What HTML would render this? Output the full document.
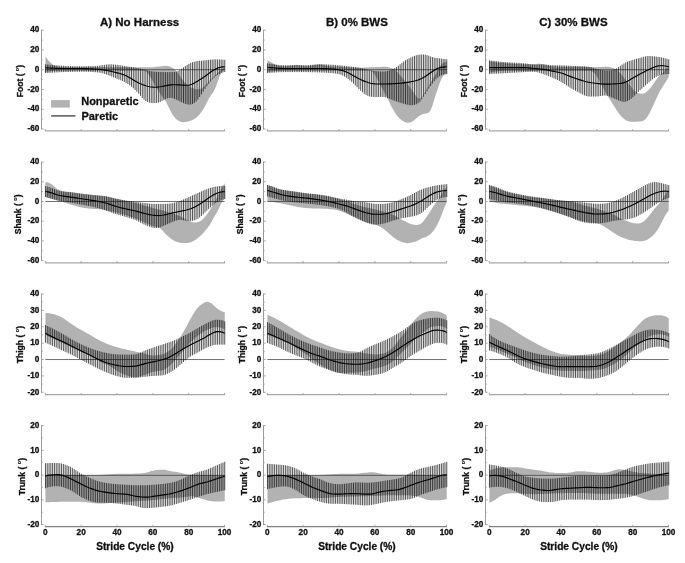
<!DOCTYPE html>
<html><head><meta charset="utf-8"><title>Figure</title>
<style>
html,body{margin:0;padding:0;background:#fff;}
svg{display:block;filter:grayscale(1);}
text{font-family:"Liberation Sans",sans-serif;font-weight:bold;fill:#111;stroke:#111;stroke-width:0.3px;}
.t{font-size:8.2px;}
.yl{font-size:8.6px;}
.xl{font-size:10.2px;}
.ti{font-size:11.5px;}
.lg{font-size:11px;}
</style></head><body>
<svg width="685" height="563" viewBox="0 0 685 563">
<rect width="685" height="563" fill="#fff"/>
<g>
<polygon fill="#b2b2b2" points="45.45,56.38 47.24,59.07 49.04,61.24 50.83,63.06 52.62,64.5 54.41,65.45 56.21,66.06 58,66.47 59.79,66.72 61.59,66.87 63.38,66.98 65.17,67.07 66.97,67.15 68.76,67.2 70.55,67.23 72.34,67.25 74.14,67.25 75.93,67.25 77.72,67.25 79.52,67.25 81.31,67.25 83.1,67.25 84.9,67.25 86.69,67.25 88.48,67.25 90.28,67.25 92.07,67.25 93.86,67.25 95.65,67.25 97.45,67.25 99.24,67.25 101.03,67.25 102.83,67.25 104.62,67.25 106.41,67.25 108.2,67.25 110,67.25 111.79,67.25 113.58,67.25 115.38,67.25 117.17,67.25 118.96,67.25 120.76,67.25 122.55,67.25 124.34,67.25 126.13,67.25 127.93,67.25 129.72,67.25 131.51,67.25 133.31,67.25 135.1,67.25 136.89,67.25 138.69,67.25 140.48,67.24 142.27,67.23 144.06,67.23 145.86,67.22 147.65,67.2 149.44,67.19 151.24,67.17 153.03,67.13 154.82,67.03 156.62,66.85 158.41,66.61 160.2,66.38 162,66.17 163.79,66 165.58,65.87 167.37,65.88 169.17,66.21 170.96,66.93 172.75,67.96 174.55,69.3 176.34,71.13 178.13,73.5 179.92,76.09 181.72,78.54 183.51,80.79 185.3,82.89 187.1,84.71 188.89,86.1 190.68,87.16 192.48,88.03 194.27,88.73 196.06,89.2 197.86,89.34 199.65,89.06 201.44,88.38 203.23,87.27 205.03,85.62 206.82,83.63 208.61,81.71 210.41,79.9 212.2,78.12 213.99,76.38 215.78,74.66 217.58,72.95 219.37,71.29 221.16,69.76 222.96,68.43 224.75,67.25 224.75,69.72 222.96,70.87 221.16,73.19 219.37,77.1 217.58,81.96 215.78,86.97 213.99,90.88 212.2,93.57 210.41,96.03 208.61,99.09 206.82,102.66 205.03,106.13 203.23,109.27 201.44,111.98 199.65,114.3 197.86,116.25 196.06,117.81 194.27,119.05 192.48,120.02 190.68,120.72 188.89,121.26 187.1,121.69 185.3,122.02 183.51,122.17 181.72,122.03 179.92,121.45 178.13,120.47 176.34,119.14 174.55,117.33 172.75,114.88 170.96,111.83 169.17,108.24 167.37,104.46 165.58,101.13 163.79,98.47 162,96.16 160.2,93.76 158.41,91.01 156.62,87.96 154.82,84.79 153.03,81.61 151.24,78.56 149.44,75.7 147.65,73.22 145.86,71.59 144.06,70.9 142.27,70.64 140.48,70.54 138.69,70.51 136.89,70.51 135.1,70.51 133.31,70.51 131.51,70.51 129.72,70.51 127.93,70.51 126.13,70.51 124.34,70.51 122.55,70.51 120.76,70.51 118.96,70.51 117.17,70.51 115.38,70.51 113.58,70.51 111.79,70.51 110,70.51 108.2,70.51 106.41,70.51 104.62,70.51 102.83,70.51 101.03,70.51 99.24,70.51 97.45,70.51 95.65,70.51 93.86,70.51 92.07,70.51 90.28,70.51 88.48,70.51 86.69,70.51 84.9,70.51 83.1,70.51 81.31,70.51 79.52,70.51 77.72,70.51 75.93,70.51 74.14,70.51 72.34,70.51 70.55,70.51 68.76,70.51 66.97,70.51 65.17,70.51 63.38,70.52 61.59,70.54 59.79,70.6 58,70.69 56.21,70.79 54.41,70.92 52.62,71.08 50.83,71.29 49.04,71.56 47.24,71.85 45.45,72.19"/>
<line x1="45.3" y1="69.72" x2="224.6" y2="69.72" stroke="#333" stroke-width="0.7"/>
<path d="M45.45 64.29V73.08M47.24 64.49V72.95M49.04 64.67V72.83M50.83 64.84V72.72M52.62 65.01V72.61M54.41 65.17V72.5M56.21 65.32V72.4M58 65.45V72.31M59.79 65.57V72.23M61.59 65.67V72.16M63.38 65.76V72.1M65.17 65.84V72.04M66.97 65.91V71.98M68.76 65.98V71.93M70.55 66.04V71.87M72.34 66.1V71.83M74.14 66.15V71.79M75.93 66.19V71.75M77.72 66.22V71.73M79.52 66.24V71.71M81.31 66.25V71.71M83.1 66.25V71.72M84.9 66.23V71.74M86.69 66.2V71.78M88.48 66.17V71.84M90.28 66.12V71.91M92.07 66.07V72M93.86 66V72.1M95.65 65.93V72.23M97.45 65.83V72.38M99.24 65.68V72.59M101.03 65.45V72.9M102.83 65.15V73.33M104.62 64.82V73.86M106.41 64.56V74.48M108.2 64.41V75.16M110 64.37V75.89M111.79 64.42V76.63M113.58 64.52V77.36M115.38 64.65V78.09M117.17 64.82V78.82M118.96 65.04V79.54M120.76 65.3V80.29M122.55 65.61V81.07M124.34 65.93V81.91M126.13 66.25V82.87M127.93 66.55V83.97M129.72 66.85V85.26M131.51 67.14V86.71M133.31 67.44V88.29M135.1 67.75V89.97M136.89 68.05V91.78M138.69 68.36V93.75M140.48 68.68V95.85M142.27 69.01V97.91M144.06 69.38V99.68M145.86 69.8V101.03M147.65 70.29V101.97M149.44 70.79V102.58M151.24 71.24V102.94M153.03 71.56V103.11M154.82 71.75V103.14M156.62 71.87V103.01M158.41 71.94V102.64M160.2 72V101.99M162 72.04V101.11M163.79 72.07V100.1M165.58 72.08V99.14M167.37 72.09V98.38M169.17 72.09V97.93M170.96 72.09V97.9M172.75 72.05V98.27M174.55 71.92V98.91M176.34 71.56V99.71M178.13 70.87V100.57M179.92 69.86V101.45M181.72 68.67V102.31M183.51 67.4V103.14M185.3 66.12V103.87M187.1 64.92V104.41M188.89 63.86V104.64M190.68 62.95V104.51M192.48 62.22V104.01M194.27 61.68V103.09M196.06 61.31V101.6M197.86 61.05V99.53M199.65 60.85V97.02M201.44 60.67V94.33M203.23 60.49V91.57M205.03 60.3V88.83M206.82 60.09V86.19M208.61 59.86V83.73M210.41 59.65V81.47M212.2 59.49V79.43M213.99 59.4V77.66M215.78 59.38V76.19M217.58 59.4V74.99M219.37 59.45V74M221.16 59.53V73.14M222.96 59.64V72.48M224.75 59.84V72.09" stroke="#000" stroke-width="0.68" fill="none"/>
<polyline points="45.45,67.74 47.24,67.87 49.04,67.98 50.83,68.08 52.62,68.18 54.41,68.28 56.21,68.36 58,68.42 59.79,68.47 61.59,68.51 63.38,68.53 65.17,68.53 66.97,68.53 68.76,68.53 70.55,68.53 72.34,68.53 74.14,68.53 75.93,68.53 77.72,68.53 79.52,68.54 81.31,68.54 83.1,68.56 84.9,68.59 86.69,68.64 88.48,68.7 90.28,68.78 92.07,68.87 93.86,68.97 95.65,69.08 97.45,69.21 99.24,69.36 101.03,69.55 102.83,69.8 104.62,70.1 106.41,70.43 108.2,70.8 110,71.17 111.79,71.56 113.58,71.96 115.38,72.38 117.17,72.82 118.96,73.3 120.76,73.82 122.55,74.4 124.34,75.05 126.13,75.79 127.93,76.67 129.72,77.68 131.51,78.77 133.31,79.89 135.1,80.98 136.89,82.01 138.69,82.94 140.48,83.76 142.27,84.5 144.06,85.17 145.86,85.77 147.65,86.29 149.44,86.7 151.24,86.98 153.03,87.14 154.82,87.2 156.62,87.15 158.41,87 160.2,86.78 162,86.48 163.79,86.14 165.58,85.76 167.37,85.4 169.17,85.09 170.96,84.88 172.75,84.79 174.55,84.77 176.34,84.78 178.13,84.82 179.92,84.87 181.72,84.96 183.51,85.08 185.3,85.2 187.1,85.26 188.89,85.16 190.68,84.78 192.48,84.08 194.27,83.12 196.06,82.03 197.86,80.91 199.65,79.79 201.44,78.66 203.23,77.48 205.03,76.26 206.82,74.98 208.61,73.65 210.41,72.3 212.2,71.01 213.99,69.87 215.78,68.91 217.58,68.12 219.37,67.54 221.16,67.11 222.96,66.87 224.75,66.76" stroke="#000" stroke-width="1.15" fill="none" stroke-linejoin="round"/>
<line x1="41.5" y1="29.7" x2="41.5" y2="129.5" stroke="#9c9c9c" stroke-width="1"/>
<line x1="45" y1="130.9" x2="224.9" y2="130.9" stroke="#a6a6a6" stroke-width="1.2"/>
<path d="M41.5 30.2h2.2M41.5 40.08h1.2M41.5 49.96h2.2M41.5 59.84h1.2M41.5 69.72h2.2M41.5 79.6h1.2M41.5 89.48h2.2M41.5 99.36h1.2M41.5 109.24h2.2M41.5 119.12h1.2M41.5 129h2.2M45.3 130.9v-1.8M81.16 130.9v-1.8M117.02 130.9v-1.8M152.88 130.9v-1.8M188.74 130.9v-1.8M224.6 130.9v-1.8" stroke="#9c9c9c" stroke-width="0.9" fill="none"/>
<text class="t" x="39.3" y="32.4" text-anchor="end">40</text>
<text class="t" x="39.3" y="52.16" text-anchor="end">20</text>
<text class="t" x="39.3" y="71.92" text-anchor="end">0</text>
<text class="t" x="39.3" y="91.68" text-anchor="end">-20</text>
<text class="t" x="39.3" y="111.44" text-anchor="end">-40</text>
<text class="t" x="39.3" y="131.2" text-anchor="end">-60</text>
<text class="yl" transform="translate(22.9 81.1) rotate(-90)" text-anchor="middle">Foot ( <tspan dy="-3.9" font-size="5.6px" stroke-width="0.1">o</tspan><tspan dy="3.9">)</tspan></text>
<text class="ti" x="139.6" y="25.5" text-anchor="middle">A) No Harness</text>
</g>
<g>
<polygon fill="#b2b2b2" points="267.45,60.33 269.24,61.38 271.04,62.36 272.83,63.31 274.62,64.27 276.41,65.11 278.21,65.67 280,65.95 281.79,66.11 283.59,66.2 285.38,66.22 287.17,66.1 288.97,65.85 290.76,65.52 292.55,65.19 294.34,64.94 296.14,64.85 297.93,64.94 299.72,65.19 301.52,65.52 303.31,65.85 305.1,66.1 306.9,66.19 308.69,66.1 310.48,65.84 312.27,65.47 314.07,65.07 315.86,64.71 317.65,64.45 319.45,64.36 321.24,64.47 323.03,64.77 324.83,65.17 326.62,65.6 328.41,65.97 330.2,66.23 332,66.38 333.79,66.49 335.58,66.58 337.38,66.67 339.17,66.76 340.96,66.87 342.76,66.99 344.55,67.12 346.34,67.24 348.13,67.37 349.93,67.49 351.72,67.59 353.51,67.66 355.31,67.71 357.1,67.73 358.89,67.73 360.69,67.7 362.48,67.65 364.27,67.59 366.06,67.52 367.86,67.45 369.65,67.37 371.44,67.29 373.24,67.22 375.03,67.15 376.82,67.07 378.62,66.99 380.41,66.91 382.2,66.84 384,66.79 385.79,66.81 387.58,67 389.37,67.42 391.17,68.05 392.96,68.85 394.75,69.88 396.55,71.31 398.34,73.12 400.13,75.15 401.92,77.34 403.72,79.6 405.51,81.86 407.3,84.08 409.1,86.3 410.89,88.59 412.68,91.12 414.48,93.84 416.27,96.36 418.06,98.18 419.86,98.69 421.65,97.4 423.44,94.69 425.23,91.55 427.03,88.52 428.82,85.54 430.61,82.56 432.41,79.6 434.2,76.65 435.99,73.68 437.78,70.47 439.58,67.04 441.37,64.35 443.16,62.86 444.96,62.12 446.75,61.82 446.75,74.07 444.96,74.61 443.16,76 441.37,79.03 439.58,83.41 437.78,88.7 435.99,94.09 434.2,99.81 432.41,105.63 430.61,110.16 428.82,112.46 427.03,113.26 425.23,113.62 423.44,113.99 421.65,114.53 419.86,115.39 418.06,116.68 416.27,118.34 414.48,120.03 412.68,121.31 410.89,122.14 409.1,122.62 407.3,122.68 405.51,122.29 403.72,121.52 401.92,120.47 400.13,119.1 398.34,117.25 396.55,114.97 394.75,112.33 392.96,109.3 391.17,105.91 389.37,102.24 387.58,98.52 385.79,95.04 384,91.74 382.2,88.44 380.41,85.03 378.62,81.6 376.82,78.3 375.03,75.25 373.24,72.78 371.44,71.37 369.65,70.82 367.86,70.61 366.06,70.53 364.27,70.51 362.48,70.51 360.69,70.51 358.89,70.51 357.1,70.51 355.31,70.51 353.51,70.51 351.72,70.51 349.93,70.51 348.13,70.51 346.34,70.51 344.55,70.51 342.76,70.51 340.96,70.51 339.17,70.51 337.38,70.51 335.58,70.51 333.79,70.51 332,70.51 330.2,70.51 328.41,70.51 326.62,70.51 324.83,70.51 323.03,70.51 321.24,70.51 319.45,70.51 317.65,70.51 315.86,70.51 314.07,70.51 312.27,70.51 310.48,70.51 308.69,70.51 306.9,70.51 305.1,70.51 303.31,70.51 301.52,70.51 299.72,70.51 297.93,70.51 296.14,70.51 294.34,70.51 292.55,70.51 290.76,70.51 288.97,70.51 287.17,70.51 285.38,70.52 283.59,70.54 281.79,70.6 280,70.69 278.21,70.79 276.41,70.92 274.62,71.08 272.83,71.29 271.04,71.56 269.24,71.85 267.45,72.19"/>
<line x1="267.3" y1="69.72" x2="446.6" y2="69.72" stroke="#333" stroke-width="0.7"/>
<path d="M267.45 63.3V73.08M269.24 63.61V72.93M271.04 63.88V72.79M272.83 64.15V72.65M274.62 64.4V72.53M276.41 64.63V72.41M278.21 64.83V72.31M280 65V72.23M281.79 65.12V72.17M283.59 65.21V72.12M285.38 65.25V72.1M287.17 65.27V72.09M288.97 65.27V72.09M290.76 65.27V72.09M292.55 65.27V72.09M294.34 65.27V72.09M296.14 65.27V72.09M297.93 65.27V72.09M299.72 65.27V72.09M301.52 65.27V72.09M303.31 65.25V72.1M305.1 65.21V72.1M306.9 65.14V72.12M308.69 65.04V72.14M310.48 64.92V72.18M312.27 64.78V72.22M314.07 64.64V72.26M315.86 64.52V72.31M317.65 64.42V72.37M319.45 64.35V72.43M321.24 64.32V72.49M323.03 64.33V72.57M324.83 64.37V72.65M326.62 64.43V72.75M328.41 64.52V72.87M330.2 64.62V73.01M332 64.74V73.17M333.79 64.86V73.36M335.58 65V73.58M337.38 65.14V73.85M339.17 65.29V74.24M340.96 65.46V74.81M342.76 65.64V75.6M344.55 65.84V76.6M346.34 66.05V77.75M348.13 66.25V79.01M349.93 66.44V80.39M351.72 66.63V81.93M353.51 66.83V83.63M355.31 67.04V85.43M357.1 67.3V87.26M358.89 67.6V89.05M360.69 67.94V90.75M362.48 68.33V92.34M364.27 68.73V93.78M366.06 69.14V94.99M367.86 69.57V95.9M369.65 70V96.52M371.44 70.41V96.88M373.24 70.76V97.06M375.03 71.04V97.1M376.82 71.25V97.06M378.62 71.41V96.97M380.41 71.53V96.89M382.2 71.59V96.86M384 71.54V97M385.79 71.33V97.4M387.58 70.95V98.04M389.37 70.42V98.79M391.17 69.77V99.52M392.96 68.98V100.22M394.75 68.06V100.88M396.55 66.96V101.51M398.34 65.69V102.12M400.13 64.27V102.71M401.92 62.83V103.27M403.72 61.48V103.81M405.51 60.29V104.32M407.3 59.22V104.78M409.1 58.27V105.12M410.89 57.41V105.26M412.68 56.61V105.16M414.48 55.87V104.83M416.27 55.25V104.23M418.06 54.81V103.22M419.86 54.55V101.62M421.65 54.45V99.41M423.44 54.48V96.78M425.23 54.68V94M427.03 55.11V91.24M428.82 55.78V88.54M430.61 56.51V85.94M432.41 57.14V83.5M434.2 57.58V81.25M435.99 57.89V79.23M437.78 58.14V77.56M439.58 58.37V76.3M441.37 58.61V75.41M443.16 58.85V74.74M444.96 59.09V74.28M446.75 59.35V74.07" stroke="#000" stroke-width="0.68" fill="none"/>
<polyline points="267.45,67.25 269.24,67.45 271.04,67.63 272.83,67.8 274.62,67.97 276.41,68.12 278.21,68.25 280,68.36 281.79,68.44 283.59,68.49 285.38,68.52 287.17,68.53 288.97,68.53 290.76,68.53 292.55,68.53 294.34,68.53 296.14,68.53 297.93,68.53 299.72,68.53 301.52,68.53 303.31,68.53 305.1,68.53 306.9,68.53 308.69,68.53 310.48,68.53 312.27,68.53 314.07,68.53 315.86,68.53 317.65,68.53 319.45,68.54 321.24,68.55 323.03,68.57 324.83,68.61 326.62,68.68 328.41,68.77 330.2,68.88 332,69.01 333.79,69.17 335.58,69.34 337.38,69.55 339.17,69.81 340.96,70.18 342.76,70.67 344.55,71.27 346.34,71.98 348.13,72.77 349.93,73.67 351.72,74.66 353.51,75.71 355.31,76.76 357.1,77.76 358.89,78.7 360.69,79.58 362.48,80.4 364.27,81.15 366.06,81.82 367.86,82.43 369.65,82.98 371.44,83.43 373.24,83.76 375.03,83.94 376.82,84.02 378.62,84.04 380.41,84.04 382.2,84.04 384,84.03 385.79,84.01 387.58,83.96 389.37,83.9 391.17,83.83 392.96,83.74 394.75,83.65 396.55,83.55 398.34,83.43 400.13,83.29 401.92,83.13 403.72,82.92 405.51,82.68 407.3,82.4 409.1,82.09 410.89,81.76 412.68,81.39 414.48,80.99 416.27,80.54 418.06,80 419.86,79.35 421.65,78.53 423.44,77.55 425.23,76.44 427.03,75.25 428.82,74.01 430.61,72.73 432.41,71.42 434.2,70.19 435.99,69.15 437.78,68.36 439.58,67.8 441.37,67.4 443.16,67.08 444.96,66.86 446.75,66.76" stroke="#000" stroke-width="1.15" fill="none" stroke-linejoin="round"/>
<line x1="263.5" y1="29.7" x2="263.5" y2="129.5" stroke="#9c9c9c" stroke-width="1"/>
<line x1="267" y1="130.9" x2="446.9" y2="130.9" stroke="#a6a6a6" stroke-width="1.2"/>
<path d="M263.5 30.2h2.2M263.5 40.08h1.2M263.5 49.96h2.2M263.5 59.84h1.2M263.5 69.72h2.2M263.5 79.6h1.2M263.5 89.48h2.2M263.5 99.36h1.2M263.5 109.24h2.2M263.5 119.12h1.2M263.5 129h2.2M267.3 130.9v-1.8M303.16 130.9v-1.8M339.02 130.9v-1.8M374.88 130.9v-1.8M410.74 130.9v-1.8M446.6 130.9v-1.8" stroke="#9c9c9c" stroke-width="0.9" fill="none"/>
<text class="t" x="261.3" y="32.4" text-anchor="end">40</text>
<text class="t" x="261.3" y="52.16" text-anchor="end">20</text>
<text class="t" x="261.3" y="71.92" text-anchor="end">0</text>
<text class="t" x="261.3" y="91.68" text-anchor="end">-20</text>
<text class="t" x="261.3" y="111.44" text-anchor="end">-40</text>
<text class="t" x="261.3" y="131.2" text-anchor="end">-60</text>
<text class="yl" transform="translate(244.9 81.1) rotate(-90)" text-anchor="middle">Foot ( <tspan dy="-3.9" font-size="5.6px" stroke-width="0.1">o</tspan><tspan dy="3.9">)</tspan></text>
<text class="ti" x="356.9" y="25.5" text-anchor="middle">B) 0% BWS</text>
</g>
<g>
<polygon fill="#b2b2b2" points="489.45,61.32 491.24,61.57 493.04,61.8 494.83,62.03 496.62,62.24 498.41,62.45 500.21,62.65 502,62.83 503.79,63 505.59,63.15 507.38,63.3 509.17,63.43 510.97,63.57 512.76,63.7 514.55,63.83 516.35,63.95 518.14,64.06 519.93,64.15 521.72,64.22 523.52,64.26 525.31,64.27 527.1,64.25 528.9,64.2 530.69,64.13 532.48,64.04 534.27,63.95 536.07,63.88 537.86,63.83 539.65,63.84 541.45,63.97 543.24,64.26 545.03,64.67 546.83,65.14 548.62,65.59 550.41,65.97 552.21,66.23 554,66.4 555.79,66.54 557.58,66.64 559.38,66.71 561.17,66.75 562.96,66.76 564.76,66.76 566.55,66.76 568.34,66.76 570.13,66.76 571.93,66.76 573.72,66.76 575.51,66.76 577.31,66.76 579.1,66.76 580.89,66.77 582.69,66.8 584.48,66.84 586.27,66.9 588.06,66.95 589.86,67.01 591.65,67.06 593.44,67.11 595.24,67.13 597.03,67.14 598.82,67.11 600.62,67.04 602.41,66.95 604.2,66.87 606,66.8 607.79,66.82 609.58,67 611.37,67.42 613.17,68.06 614.96,68.86 616.75,69.86 618.55,71.27 620.34,73.17 622.13,75.36 623.92,77.63 625.72,79.92 627.51,82.24 629.3,84.55 631.1,86.84 632.89,89.07 634.68,90.96 636.48,92.27 638.27,93.1 640.06,93.63 641.86,93.84 643.65,93.56 645.44,92.66 647.23,91.3 649.03,89.59 650.82,87.44 652.61,84.96 654.41,82.3 656.2,79.68 657.99,77.27 659.78,75.23 661.58,73.6 663.37,72.06 665.16,70.31 666.96,68.21 668.75,65.77 668.75,76.64 666.96,79.97 665.16,82.79 663.37,85.54 661.58,88.4 659.78,91.46 657.99,94.89 656.2,98.8 654.41,102.9 652.61,106.83 650.82,110.5 649.03,113.92 647.23,116.92 645.44,119.19 643.65,120.61 641.86,121.24 640.06,121.47 638.27,121.6 636.48,121.69 634.68,121.75 632.89,121.76 631.1,121.69 629.3,121.47 627.51,121.01 625.72,120.15 623.92,118.86 622.13,117.24 620.34,115.29 618.55,112.99 616.75,110.41 614.96,107.6 613.17,104.64 611.37,101.76 609.58,98.98 607.79,96.15 606,93.18 604.2,90.05 602.41,86.74 600.62,83.31 598.82,79.92 597.03,76.72 595.24,73.95 593.44,71.98 591.65,71.14 589.86,70.87 588.06,70.76 586.27,70.72 584.48,70.71 582.69,70.71 580.89,70.71 579.1,70.71 577.31,70.71 575.51,70.71 573.72,70.71 571.93,70.71 570.13,70.71 568.34,70.71 566.55,70.71 564.76,70.71 562.96,70.71 561.17,70.71 559.38,70.71 557.58,70.71 555.79,70.71 554,70.71 552.21,70.71 550.41,70.71 548.62,70.71 546.83,70.71 545.03,70.71 543.24,70.71 541.45,70.71 539.65,70.71 537.86,70.71 536.07,70.71 534.27,70.71 532.48,70.71 530.69,70.71 528.9,70.71 527.1,70.71 525.31,70.71 523.52,70.71 521.72,70.71 519.93,70.71 518.14,70.71 516.35,70.71 514.55,70.71 512.76,70.71 510.97,70.71 509.17,70.71 507.38,70.72 505.59,70.75 503.79,70.82 502,70.93 500.21,71.06 498.41,71.21 496.62,71.41 494.83,71.66 493.04,71.96 491.24,72.3 489.45,72.68"/>
<line x1="489.3" y1="69.72" x2="668.6" y2="69.72" stroke="#333" stroke-width="0.7"/>
<path d="M489.45 60.33V74.07M491.24 60.59V73.96M493.04 60.81V73.87M494.83 61.03V73.77M496.62 61.25V73.67M498.41 61.46V73.57M500.21 61.65V73.47M502 61.83V73.38M503.79 62V73.28M505.59 62.16V73.18M507.38 62.29V73.08M509.17 62.42V72.98M510.97 62.52V72.88M512.76 62.61V72.78M514.55 62.69V72.67M516.35 62.77V72.57M518.14 62.86V72.47M519.93 62.95V72.37M521.72 63.06V72.28M523.52 63.19V72.18M525.31 63.38V72.09M527.1 63.63V71.99M528.9 63.95V71.9M530.69 64.27V71.82M532.48 64.52V71.78M534.27 64.65V71.83M536.07 64.66V72.03M537.86 64.58V72.39M539.65 64.48V72.88M541.45 64.4V73.46M543.24 64.39V74.08M545.03 64.49V74.72M546.83 64.67V75.4M548.62 64.89V76.11M550.41 65.08V76.86M552.21 65.2V77.63M554 65.26V78.42M555.79 65.27V79.23M557.58 65.27V80.08M559.38 65.28V80.98M561.17 65.3V81.97M562.96 65.35V83.04M564.76 65.43V84.2M566.55 65.54V85.4M568.34 65.65V86.6M570.13 65.75V87.73M571.93 65.85V88.8M573.72 65.93V89.82M575.51 66.01V90.79M577.31 66.08V91.74M579.1 66.16V92.68M580.89 66.23V93.64M582.69 66.3V94.58M584.48 66.38V95.41M586.27 66.49V96.03M588.06 66.69V96.39M589.86 67.01V96.54M591.65 67.47V96.58M593.44 68.02V96.59M595.24 68.57V96.57M597.03 69.05V96.49M598.82 69.47V96.32M600.62 69.83V96.06M602.41 70.12V95.76M604.2 70.33V95.55M606 70.44V95.58M607.79 70.48V95.93M609.58 70.44V96.56M611.37 70.26V97.33M613.17 69.84V98.11M614.96 69.12V98.88M616.75 68.17V99.63M618.55 67.08V100.38M620.34 65.9V101.09M622.13 64.68V101.64M623.92 63.52V101.86M625.72 62.51V101.66M627.51 61.68V101.04M629.3 61V100.07M631.1 60.41V98.78M632.89 59.86V97.21M634.68 59.33V95.47M636.48 58.82V93.72M638.27 58.33V92M640.06 57.84V90.34M641.86 57.32V88.69M643.65 56.81V87.07M645.44 56.37V85.45M647.23 56.11V83.85M649.03 56.03V82.28M650.82 56.1V80.75M652.61 56.23V79.32M654.41 56.4V78.04M656.2 56.6V76.9M657.99 56.83V75.93M659.78 57.1V75.17M661.58 57.43V74.67M663.37 57.81V74.38M665.16 58.24V74.21M666.96 58.74V74.11M668.75 59.35V74.07" stroke="#000" stroke-width="0.68" fill="none"/>
<polyline points="489.45,67.55 491.24,67.55 493.04,67.55 494.83,67.55 496.62,67.55 498.41,67.55 500.21,67.55 502,67.55 503.79,67.55 505.59,67.55 507.38,67.55 509.17,67.55 510.97,67.55 512.76,67.55 514.55,67.55 516.35,67.55 518.14,67.55 519.93,67.55 521.72,67.55 523.52,67.56 525.31,67.6 527.1,67.7 528.9,67.86 530.69,68.07 532.48,68.29 534.27,68.5 536.07,68.68 537.86,68.83 539.65,68.99 541.45,69.16 543.24,69.38 545.03,69.65 546.83,69.97 548.62,70.34 550.41,70.71 552.21,71.08 554,71.43 555.79,71.77 557.58,72.12 559.38,72.51 561.17,72.98 562.96,73.55 564.76,74.21 566.55,74.94 568.34,75.68 570.13,76.4 571.93,77.09 573.72,77.75 575.51,78.38 577.31,78.99 579.1,79.59 580.89,80.17 582.69,80.72 584.48,81.24 586.27,81.71 588.06,82.11 589.86,82.45 591.65,82.75 593.44,83 595.24,83.23 597.03,83.45 598.82,83.66 600.62,83.85 602.41,84.02 604.2,84.13 606,84.19 607.79,84.18 609.58,84.13 611.37,84.05 613.17,83.95 614.96,83.84 616.75,83.7 618.55,83.55 620.34,83.34 622.13,83.07 623.92,82.66 625.72,82.04 627.51,81.19 629.3,80.16 631.1,79.06 632.89,77.99 634.68,76.96 636.48,75.97 638.27,75 640.06,74.04 641.86,73.09 643.65,72.15 645.44,71.22 647.23,70.31 649.03,69.41 650.82,68.54 652.61,67.69 654.41,66.94 656.2,66.34 657.99,65.94 659.78,65.73 661.58,65.69 663.37,65.78 665.16,65.96 666.96,66.25 668.75,66.76" stroke="#000" stroke-width="1.15" fill="none" stroke-linejoin="round"/>
<line x1="485.5" y1="29.7" x2="485.5" y2="129.5" stroke="#9c9c9c" stroke-width="1"/>
<line x1="489" y1="130.9" x2="668.9" y2="130.9" stroke="#a6a6a6" stroke-width="1.2"/>
<path d="M485.5 30.2h2.2M485.5 40.08h1.2M485.5 49.96h2.2M485.5 59.84h1.2M485.5 69.72h2.2M485.5 79.6h1.2M485.5 89.48h2.2M485.5 99.36h1.2M485.5 109.24h2.2M485.5 119.12h1.2M485.5 129h2.2M489.3 130.9v-1.8M525.16 130.9v-1.8M561.02 130.9v-1.8M596.88 130.9v-1.8M632.74 130.9v-1.8M668.6 130.9v-1.8" stroke="#9c9c9c" stroke-width="0.9" fill="none"/>
<text class="t" x="483.3" y="32.4" text-anchor="end">40</text>
<text class="t" x="483.3" y="52.16" text-anchor="end">20</text>
<text class="t" x="483.3" y="71.92" text-anchor="end">0</text>
<text class="t" x="483.3" y="91.68" text-anchor="end">-20</text>
<text class="t" x="483.3" y="111.44" text-anchor="end">-40</text>
<text class="t" x="483.3" y="131.2" text-anchor="end">-60</text>
<text class="yl" transform="translate(466.9 81.1) rotate(-90)" text-anchor="middle">Foot ( <tspan dy="-3.9" font-size="5.6px" stroke-width="0.1">o</tspan><tspan dy="3.9">)</tspan></text>
<text class="ti" x="573.4" y="25.5" text-anchor="middle">C) 30% BWS</text>
</g>
<g>
<polygon fill="#b2b2b2" points="45.45,182 47.24,182.28 49.04,182.91 50.83,183.83 52.62,185.1 54.41,186.68 56.21,188.22 58,189.42 59.79,190.24 61.59,190.78 63.38,191.16 65.17,191.43 66.97,191.65 68.76,191.84 70.55,192.04 72.34,192.25 74.14,192.48 75.93,192.73 77.72,192.98 79.52,193.23 81.31,193.47 83.1,193.7 84.9,193.92 86.69,194.12 88.48,194.32 90.28,194.51 92.07,194.7 93.86,194.88 95.65,195.07 97.45,195.25 99.24,195.42 101.03,195.6 102.83,195.8 104.62,196.02 106.41,196.29 108.2,196.63 110,197.04 111.79,197.49 113.58,197.94 115.38,198.39 117.17,198.83 118.96,199.27 120.76,199.72 122.55,200.16 124.34,200.59 126.13,201 127.93,201.38 129.72,201.75 131.51,202.11 133.31,202.48 135.1,202.9 136.89,203.36 138.69,203.86 140.48,204.39 142.27,204.92 144.06,205.43 145.86,205.94 147.65,206.43 149.44,206.92 151.24,207.41 153.03,207.9 154.82,208.4 156.62,208.89 158.41,209.38 160.2,209.87 162,210.36 163.79,210.84 165.58,211.31 167.37,211.79 169.17,212.3 170.96,212.85 172.75,213.45 174.55,214.1 176.34,214.79 178.13,215.52 179.92,216.3 181.72,217.14 183.51,218.05 185.3,218.99 187.1,219.88 188.89,220.71 190.68,221.49 192.48,222.13 194.27,222.44 196.06,222.39 197.86,222.09 199.65,221.51 201.44,220.4 203.23,218.73 205.03,216.72 206.82,214.49 208.61,212.02 210.41,209.31 212.2,206.37 213.99,203.21 215.78,199.85 217.58,196.29 219.37,192.66 221.16,189.17 222.96,186.05 224.75,183.18 224.75,198.94 222.96,200.47 221.16,203.38 219.37,207.46 217.58,211.16 215.78,214.31 213.99,217.37 212.2,220.55 210.41,223.65 208.61,226.4 206.82,228.85 205.03,231.06 203.23,233.09 201.44,234.94 199.65,236.6 197.86,238.08 196.06,239.41 194.27,240.56 192.48,241.45 190.68,242.13 188.89,242.65 187.1,242.99 185.3,243.11 183.51,243.07 181.72,242.93 179.92,242.72 178.13,242.37 176.34,241.77 174.55,240.95 172.75,239.95 170.96,238.74 169.17,237.28 167.37,235.65 165.58,233.89 163.79,231.95 162,230.04 160.2,228.53 158.41,227.6 156.62,227.04 154.82,226.59 153.03,226.07 151.24,225.42 149.44,224.67 147.65,223.85 145.86,223.01 144.06,222.19 142.27,221.37 140.48,220.56 138.69,219.75 136.89,218.98 135.1,218.26 133.31,217.6 131.51,216.99 129.72,216.4 127.93,215.84 126.13,215.29 124.34,214.77 122.55,214.25 120.76,213.76 118.96,213.29 117.17,212.84 115.38,212.41 113.58,212.01 111.79,211.62 110,211.24 108.2,210.86 106.41,210.47 104.62,210.04 102.83,209.62 101.03,209.3 99.24,209.14 97.45,209.07 95.65,209.01 93.86,208.92 92.07,208.79 90.28,208.64 88.48,208.46 86.69,208.25 84.9,208.02 83.1,207.73 81.31,207.38 79.52,206.95 77.72,206.47 75.93,205.96 74.14,205.45 72.34,204.94 70.55,204.42 68.76,203.89 66.97,203.35 65.17,202.8 63.38,202.27 61.59,201.75 59.79,201.24 58,200.74 56.21,200.24 54.41,199.72 52.62,199.19 50.83,198.65 49.04,198.1 47.24,197.54 45.45,196.97"/>
<line x1="45.3" y1="201.5" x2="224.6" y2="201.5" stroke="#333" stroke-width="0.7"/>
<path d="M45.45 186.04V196.97M47.24 186.53V197.47M49.04 187.06V197.95M50.83 187.66V198.47M52.62 188.31V199.01M54.41 189.01V199.55M56.21 189.68V200.05M58 190.3V200.49M59.79 190.82V200.86M61.59 191.25V201.19M63.38 191.56V201.49M65.17 191.79V201.78M66.97 191.98V202.05M68.76 192.14V202.31M70.55 192.3V202.59M72.34 192.49V202.88M74.14 192.71V203.19M75.93 192.97V203.52M77.72 193.24V203.87M79.52 193.53V204.23M81.31 193.81V204.6M83.1 194.07V204.96M84.9 194.29V205.31M86.69 194.5V205.65M88.48 194.68V205.99M90.28 194.85V206.34M92.07 195.02V206.7M93.86 195.19V207.1M95.65 195.36V207.52M97.45 195.52V207.99M99.24 195.68V208.49M101.03 195.85V209.03M102.83 196.04V209.59M104.62 196.26V210.17M106.41 196.53V210.77M108.2 196.87V211.4M110 197.28V212.04M111.79 197.71V212.7M113.58 198.14V213.33M115.38 198.55V213.93M117.17 198.92V214.49M118.96 199.27V215.02M120.76 199.6V215.54M122.55 199.92V216.04M124.34 200.22V216.55M126.13 200.5V217.06M127.93 200.76V217.58M129.72 201V218.1M131.51 201.24V218.65M133.31 201.47V219.25M135.1 201.7V219.94M136.89 201.94V220.75M138.69 202.18V221.66M140.48 202.42V222.63M142.27 202.65V223.59M144.06 202.89V224.48M145.86 203.13V225.3M147.65 203.36V226.05M149.44 203.57V226.73M151.24 203.72V227.32M153.03 203.81V227.79M154.82 203.85V228.09M156.62 203.86V228.12M158.41 203.86V227.83M160.2 203.86V227.26M162 203.85V226.53M163.79 203.82V225.74M165.58 203.77V224.94M167.37 203.68V224.13M169.17 203.56V223.35M170.96 203.37V222.58M172.75 203.08V221.83M174.55 202.66V221.12M176.34 202.13V220.5M178.13 201.53V220.07M179.92 200.87V219.9M181.72 200.17V219.98M183.51 199.41V220.25M185.3 198.61V220.57M187.1 197.8V220.86M188.89 196.99V221.01M190.68 196.19V220.98M192.48 195.39V220.78M194.27 194.6V220.36M196.06 193.81V219.67M197.86 193.01V218.7M199.65 192.2V217.46M201.44 191.39V215.99M203.23 190.59V214.33M205.03 189.83V212.57M206.82 189.14V210.8M208.61 188.49V209.06M210.41 187.91V207.36M212.2 187.38V205.76M213.99 186.94V204.31M215.78 186.6V203.04M217.58 186.33V201.96M219.37 186.11V201.03M221.16 185.93V200.19M222.96 185.8V199.49M224.75 185.74V198.94" stroke="#000" stroke-width="0.68" fill="none"/>
<polyline points="45.45,191.45 47.24,191.7 49.04,192.08 50.83,192.58 52.62,193.19 54.41,193.87 56.21,194.52 58,195.04 59.79,195.45 61.59,195.78 63.38,196.07 65.17,196.35 66.97,196.61 68.76,196.86 70.55,197.11 72.34,197.37 74.14,197.63 75.93,197.9 77.72,198.17 79.52,198.45 81.31,198.72 83.1,199 84.9,199.27 86.69,199.54 88.48,199.8 90.28,200.07 92.07,200.35 93.86,200.64 95.65,200.94 97.45,201.25 99.24,201.58 101.03,201.93 102.83,202.3 104.62,202.72 106.41,203.2 108.2,203.76 110,204.38 111.79,205.02 113.58,205.65 115.38,206.23 117.17,206.75 118.96,207.24 120.76,207.7 122.55,208.13 124.34,208.56 126.13,208.97 127.93,209.38 129.72,209.77 131.51,210.16 133.31,210.56 135.1,210.98 136.89,211.43 138.69,211.9 140.48,212.38 142.27,212.85 144.06,213.31 145.86,213.77 147.65,214.21 149.44,214.61 151.24,214.96 153.03,215.23 154.82,215.43 156.62,215.55 158.41,215.57 160.2,215.48 162,215.28 163.79,215 165.58,214.65 167.37,214.24 169.17,213.8 170.96,213.35 172.75,212.92 174.55,212.52 176.34,212.13 178.13,211.74 179.92,211.36 181.72,210.99 183.51,210.61 185.3,210.23 187.1,209.8 188.89,209.29 190.68,208.7 192.48,208 194.27,207.2 196.06,206.32 197.86,205.33 199.65,204.23 201.44,203.02 203.23,201.74 205.03,200.44 206.82,199.17 208.61,197.94 210.41,196.76 212.2,195.63 213.99,194.62 215.78,193.73 217.58,192.98 219.37,192.41 221.16,191.96 222.96,191.74 224.75,191.65" stroke="#000" stroke-width="1.15" fill="none" stroke-linejoin="round"/>
<line x1="41.5" y1="161.6" x2="41.5" y2="261.1" stroke="#9c9c9c" stroke-width="1"/>
<line x1="45" y1="262.8" x2="224.9" y2="262.8" stroke="#a6a6a6" stroke-width="1.2"/>
<path d="M41.5 162.1h2.2M41.5 171.95h1.2M41.5 181.8h2.2M41.5 191.65h1.2M41.5 201.5h2.2M41.5 211.35h1.2M41.5 221.2h2.2M41.5 231.05h1.2M41.5 240.9h2.2M41.5 250.75h1.2M41.5 260.6h2.2M45.3 262.8v-1.8M81.16 262.8v-1.8M117.02 262.8v-1.8M152.88 262.8v-1.8M188.74 262.8v-1.8M224.6 262.8v-1.8" stroke="#9c9c9c" stroke-width="0.9" fill="none"/>
<text class="t" x="39.3" y="164.3" text-anchor="end">40</text>
<text class="t" x="39.3" y="184" text-anchor="end">20</text>
<text class="t" x="39.3" y="203.7" text-anchor="end">0</text>
<text class="t" x="39.3" y="223.4" text-anchor="end">-20</text>
<text class="t" x="39.3" y="243.1" text-anchor="end">-40</text>
<text class="t" x="39.3" y="262.8" text-anchor="end">-60</text>
<text class="yl" transform="translate(21.3 214.35) rotate(-90)" text-anchor="middle">Shank ( <tspan dy="-3.9" font-size="5.6px" stroke-width="0.1">o</tspan><tspan dy="3.9">)</tspan></text>
</g>
<g>
<polygon fill="#b2b2b2" points="267.45,185.25 269.24,185.73 271.04,186.27 272.83,186.9 274.62,187.63 276.41,188.4 278.21,189.06 280,189.54 281.79,189.9 283.59,190.21 285.38,190.5 287.17,190.77 288.97,191.03 290.76,191.28 292.55,191.52 294.34,191.77 296.14,192.03 297.93,192.3 299.72,192.57 301.52,192.83 303.31,193.09 305.1,193.33 306.9,193.54 308.69,193.74 310.48,193.93 312.27,194.11 314.07,194.3 315.86,194.5 317.65,194.73 319.45,194.97 321.24,195.22 323.03,195.5 324.83,195.79 326.62,196.09 328.41,196.42 330.2,196.78 332,197.16 333.79,197.57 335.58,198 337.38,198.44 339.17,198.9 340.96,199.38 342.76,199.88 344.55,200.4 346.34,200.94 348.13,201.52 349.93,202.15 351.72,202.83 353.51,203.52 355.31,204.2 357.1,204.83 358.89,205.41 360.69,205.95 362.48,206.46 364.27,206.94 366.06,207.4 367.86,207.82 369.65,208.21 371.44,208.59 373.24,208.98 375.03,209.39 376.82,209.82 378.62,210.28 380.41,210.75 382.2,211.24 384,211.75 385.79,212.27 387.58,212.81 389.37,213.39 391.17,214.02 392.96,214.75 394.75,215.63 396.55,216.62 398.34,217.65 400.13,218.66 401.92,219.67 403.72,220.65 405.51,221.58 407.3,222.46 409.1,223.25 410.89,223.92 412.68,224.47 414.48,224.87 416.27,225.02 418.06,224.82 419.86,224.27 421.65,223.2 423.44,221.26 425.23,218.74 427.03,216.2 428.82,213.59 430.61,210.76 432.41,207.93 434.2,205.33 435.99,202.83 437.78,200.24 439.58,197.49 441.37,194.59 443.16,191.72 444.96,189.11 446.75,186.72 446.75,202.29 444.96,206.16 443.16,210.87 441.37,215.55 439.58,219.87 437.78,223.63 435.99,226.89 434.2,229.68 432.41,232.04 430.61,233.93 428.82,235.36 427.03,236.46 425.23,237.26 423.44,237.85 421.65,238.52 419.86,239.48 418.06,240.45 416.27,241.2 414.48,241.79 412.68,242.26 410.89,242.68 409.1,243.01 407.3,243.16 405.51,243.02 403.72,242.59 401.92,242 400.13,241.3 398.34,240.47 396.55,239.47 394.75,238.27 392.96,236.88 391.17,235.36 389.37,233.77 387.58,232.17 385.79,230.65 384,229.25 382.2,228.01 380.41,226.95 378.62,226.04 376.82,225.26 375.03,224.59 373.24,224.04 371.44,223.57 369.65,223.14 367.86,222.68 366.06,222.14 364.27,221.49 362.48,220.73 360.69,219.91 358.89,219.07 357.1,218.26 355.31,217.46 353.51,216.68 351.72,215.89 349.93,215.1 348.13,214.29 346.34,213.45 344.55,212.63 342.76,211.88 340.96,211.22 339.17,210.65 337.38,210.19 335.58,209.83 333.79,209.56 332,209.34 330.2,209.16 328.41,208.98 326.62,208.84 324.83,208.72 323.03,208.63 321.24,208.57 319.45,208.53 317.65,208.51 315.86,208.48 314.07,208.45 312.27,208.41 310.48,208.34 308.69,208.23 306.9,208.08 305.1,207.89 303.31,207.68 301.52,207.45 299.72,207.2 297.93,206.9 296.14,206.57 294.34,206.2 292.55,205.82 290.76,205.44 288.97,205.07 287.17,204.71 285.38,204.34 283.59,203.98 281.79,203.62 280,203.28 278.21,202.95 276.41,202.65 274.62,202.35 272.83,202.07 271.04,201.8 269.24,201.55 267.45,201.3"/>
<line x1="267.3" y1="201.5" x2="446.6" y2="201.5" stroke="#333" stroke-width="0.7"/>
<path d="M267.45 184.95V196.38M269.24 185.42V196.97M271.04 185.95V197.48M272.83 186.57V197.98M274.62 187.25V198.46M276.41 187.95V198.93M278.21 188.58V199.39M280 189.08V199.85M281.79 189.47V200.29M283.59 189.8V200.68M285.38 190.09V201.03M287.17 190.37V201.34M288.97 190.62V201.61M290.76 190.88V201.86M292.55 191.13V202.09M294.34 191.39V202.31M296.14 191.66V202.52M297.93 191.94V202.71M299.72 192.22V202.89M301.52 192.5V203.06M303.31 192.77V203.23M305.1 193.01V203.4M306.9 193.23V203.57M308.69 193.42V203.74M310.48 193.59V203.91M312.27 193.76V204.08M314.07 193.94V204.27M315.86 194.13V204.47M317.65 194.34V204.68M319.45 194.57V204.92M321.24 194.83V205.17M323.03 195.1V205.44M324.83 195.4V205.74M326.62 195.71V206.05M328.41 196.07V206.39M330.2 196.46V206.75M332 196.87V207.14M333.79 197.3V207.57M335.58 197.71V208.03M337.38 198.09V208.54M339.17 198.43V209.1M340.96 198.75V209.75M342.76 199.05V210.54M344.55 199.34V211.49M346.34 199.63V212.56M348.13 199.94V213.65M349.93 200.26V214.73M351.72 200.59V215.76M353.51 200.91V216.75M355.31 201.21V217.7M357.1 201.45V218.61M358.89 201.65V219.49M360.69 201.82V220.33M362.48 201.97V221.13M364.27 202.14V221.87M366.06 202.37V222.55M367.86 202.66V223.19M369.65 203V223.77M371.44 203.34V224.26M373.24 203.61V224.61M375.03 203.77V224.76M376.82 203.84V224.73M378.62 203.86V224.55M380.41 203.86V224.27M382.2 203.85V223.92M384 203.79V223.5M385.79 203.66V223.01M387.58 203.43V222.46M389.37 203.1V221.85M391.17 202.69V221.23M392.96 202.23V220.65M394.75 201.7V220.11M396.55 201.08V219.6M398.34 200.4V219.12M400.13 199.68V218.68M401.92 198.94V218.29M403.72 198.19V217.96M405.51 197.43V217.65M407.3 196.64V217.37M409.1 195.81V217.06M410.89 194.93V216.73M412.68 193.98V216.36M414.48 192.98V215.94M416.27 191.98V215.45M418.06 191.03V214.84M419.86 190.18V214.02M421.65 189.44V212.92M423.44 188.78V211.51M425.23 188.19V209.88M427.03 187.65V208.17M428.82 187.14V206.46M430.61 186.68V204.79M432.41 186.24V203.17M434.2 185.84V201.66M435.99 185.49V200.38M437.78 185.18V199.36M439.58 184.92V198.59M441.37 184.69V197.99M443.16 184.48V197.5M444.96 184.3V197.14M446.75 184.16V196.97" stroke="#000" stroke-width="0.68" fill="none"/>
<polyline points="267.45,190.37 269.24,190.93 271.04,191.46 272.83,192 274.62,192.55 276.41,193.11 278.21,193.66 280,194.19 281.79,194.7 283.59,195.15 285.38,195.53 287.17,195.87 288.97,196.16 290.76,196.42 292.55,196.67 294.34,196.89 296.14,197.1 297.93,197.28 299.72,197.46 301.52,197.63 303.31,197.81 305.1,197.99 306.9,198.18 308.69,198.39 310.48,198.6 312.27,198.83 314.07,199.07 315.86,199.31 317.65,199.58 319.45,199.85 321.24,200.14 323.03,200.45 324.83,200.77 326.62,201.11 328.41,201.47 330.2,201.85 332,202.26 333.79,202.68 335.58,203.12 337.38,203.56 339.17,204 340.96,204.46 342.76,204.92 344.55,205.4 346.34,205.92 348.13,206.47 349.93,207.08 351.72,207.73 353.51,208.41 355.31,209.09 357.1,209.76 358.89,210.41 360.69,211.05 362.48,211.65 364.27,212.2 366.06,212.69 367.86,213.13 369.65,213.53 371.44,213.86 373.24,214.09 375.03,214.22 376.82,214.26 378.62,214.25 380.41,214.21 382.2,214.14 384,214 385.79,213.75 387.58,213.37 389.37,212.88 391.17,212.32 392.96,211.75 394.75,211.18 396.55,210.59 398.34,210 400.13,209.4 401.92,208.8 403.72,208.22 405.51,207.64 407.3,207.05 409.1,206.44 410.89,205.8 412.68,205.11 414.48,204.37 416.27,203.59 418.06,202.73 419.86,201.78 421.65,200.72 423.44,199.56 425.23,198.36 427.03,197.17 428.82,196.04 430.61,194.98 432.41,193.99 434.2,193.1 435.99,192.36 437.78,191.78 439.58,191.35 441.37,191.02 443.16,190.75 444.96,190.56 446.75,190.47" stroke="#000" stroke-width="1.15" fill="none" stroke-linejoin="round"/>
<line x1="263.5" y1="161.6" x2="263.5" y2="261.1" stroke="#9c9c9c" stroke-width="1"/>
<line x1="267" y1="262.8" x2="446.9" y2="262.8" stroke="#a6a6a6" stroke-width="1.2"/>
<path d="M263.5 162.1h2.2M263.5 171.95h1.2M263.5 181.8h2.2M263.5 191.65h1.2M263.5 201.5h2.2M263.5 211.35h1.2M263.5 221.2h2.2M263.5 231.05h1.2M263.5 240.9h2.2M263.5 250.75h1.2M263.5 260.6h2.2M267.3 262.8v-1.8M303.16 262.8v-1.8M339.02 262.8v-1.8M374.88 262.8v-1.8M410.74 262.8v-1.8M446.6 262.8v-1.8" stroke="#9c9c9c" stroke-width="0.9" fill="none"/>
<text class="t" x="261.3" y="164.3" text-anchor="end">40</text>
<text class="t" x="261.3" y="184" text-anchor="end">20</text>
<text class="t" x="261.3" y="203.7" text-anchor="end">0</text>
<text class="t" x="261.3" y="223.4" text-anchor="end">-20</text>
<text class="t" x="261.3" y="243.1" text-anchor="end">-40</text>
<text class="t" x="261.3" y="262.8" text-anchor="end">-60</text>
<text class="yl" transform="translate(243.3 214.35) rotate(-90)" text-anchor="middle">Shank ( <tspan dy="-3.9" font-size="5.6px" stroke-width="0.1">o</tspan><tspan dy="3.9">)</tspan></text>
</g>
<g>
<polygon fill="#b2b2b2" points="489.45,185.74 491.24,186.19 493.04,186.7 494.83,187.28 496.62,187.94 498.41,188.66 500.21,189.41 502,190.15 503.79,190.86 505.59,191.5 507.38,192.04 509.17,192.52 510.97,192.94 512.76,193.34 514.55,193.73 516.35,194.1 518.14,194.47 519.93,194.84 521.72,195.19 523.52,195.53 525.31,195.85 527.1,196.16 528.9,196.44 530.69,196.7 532.48,196.95 534.27,197.18 536.07,197.41 537.86,197.64 539.65,197.87 541.45,198.1 543.24,198.33 545.03,198.55 546.83,198.78 548.62,199 550.41,199.23 552.21,199.46 554,199.69 555.79,199.92 557.58,200.14 559.38,200.35 561.17,200.54 562.96,200.71 564.76,200.88 566.55,201.06 568.34,201.27 570.13,201.53 571.93,201.88 573.72,202.32 575.51,202.82 577.31,203.34 579.1,203.86 580.89,204.37 582.69,204.89 584.48,205.4 586.27,205.92 588.06,206.42 589.86,206.9 591.65,207.36 593.44,207.82 595.24,208.3 597.03,208.8 598.82,209.34 600.62,209.91 602.41,210.5 604.2,211.11 606,211.75 607.79,212.39 609.58,213.04 611.37,213.73 613.17,214.49 614.96,215.36 616.75,216.41 618.55,217.54 620.34,218.55 622.13,219.34 623.92,219.99 625.72,220.6 627.51,221.24 629.3,221.95 631.1,222.62 632.89,223.09 634.68,223.35 636.48,223.48 638.27,223.46 640.06,223.14 641.86,222.46 643.65,221.42 645.44,219.9 647.23,217.9 649.03,215.68 650.82,213.4 652.61,211.08 654.41,208.87 656.2,206.85 657.99,204.89 659.78,202.74 661.58,200.25 663.37,197.59 665.16,194.93 666.96,192.32 668.75,189.68 668.75,210.37 666.96,212.76 665.16,215.61 663.37,218.94 661.58,222.43 659.78,225.96 657.99,229.16 656.2,231.82 654.41,233.98 652.61,235.73 650.82,237.2 649.03,238.53 647.23,239.67 645.44,240.42 643.65,240.88 641.86,241.15 640.06,241.24 638.27,241.2 636.48,241.06 634.68,240.88 632.89,240.62 631.1,240.29 629.3,239.88 627.51,239.39 625.72,238.81 623.92,238.15 622.13,237.43 620.34,236.63 618.55,235.73 616.75,234.72 614.96,233.6 613.17,232.43 611.37,231.24 609.58,230.04 607.79,228.84 606,227.64 604.2,226.49 602.41,225.43 600.62,224.48 598.82,223.77 597.03,223.32 595.24,223.04 593.44,222.82 591.65,222.63 589.86,222.42 588.06,222.17 586.27,221.85 584.48,221.49 582.69,221.1 580.89,220.66 579.1,220.2 577.31,219.68 575.51,219.11 573.72,218.5 571.93,217.88 570.13,217.27 568.34,216.67 566.55,216.08 564.76,215.49 562.96,214.9 561.17,214.3 559.38,213.7 557.58,213.1 555.79,212.5 554,211.92 552.21,211.36 550.41,210.82 548.62,210.31 546.83,209.81 545.03,209.34 543.24,208.89 541.45,208.46 539.65,208.05 537.86,207.65 536.07,207.29 534.27,206.97 532.48,206.71 530.69,206.48 528.9,206.28 527.1,206.09 525.31,205.92 523.52,205.74 521.72,205.56 519.93,205.39 518.14,205.21 516.35,205.04 514.55,204.87 512.76,204.69 510.97,204.52 509.17,204.35 507.38,204.19 505.59,204.02 503.79,203.85 502,203.65 500.21,203.44 498.41,203.19 496.62,202.92 494.83,202.62 493.04,202.3 491.24,201.96 489.45,201.6"/>
<line x1="489.3" y1="201.5" x2="668.6" y2="201.5" stroke="#333" stroke-width="0.7"/>
<path d="M489.45 184.95V199.14M491.24 185.42V199.5M493.04 185.94V199.84M494.83 186.55V200.19M496.62 187.22V200.55M498.41 187.95V200.91M500.21 188.7V201.27M502 189.44V201.63M503.79 190.13V201.97M505.59 190.77V202.28M507.38 191.35V202.53M509.17 191.86V202.73M510.97 192.33V202.9M512.76 192.77V203.07M514.55 193.19V203.24M516.35 193.59V203.43M518.14 193.99V203.65M519.93 194.37V203.89M521.72 194.74V204.15M523.52 195.09V204.43M525.31 195.43V204.72M527.1 195.75V205.03M528.9 196.05V205.34M530.69 196.33V205.66M532.48 196.59V206M534.27 196.85V206.35M536.07 197.1V206.73M537.86 197.34V207.13M539.65 197.57V207.57M541.45 197.8V208.06M543.24 198.03V208.57M545.03 198.25V209.12M546.83 198.48V209.67M548.62 198.71V210.22M550.41 198.96V210.76M552.21 199.23V211.29M554 199.5V211.81M555.79 199.77V212.34M557.58 200.01V212.89M559.38 200.23V213.45M561.17 200.4V214.04M562.96 200.56V214.65M564.76 200.7V215.27M566.55 200.83V215.92M568.34 200.97V216.6M570.13 201.11V217.32M571.93 201.26V218.09M573.72 201.41V218.9M575.51 201.57V219.71M577.31 201.73V220.46M579.1 201.9V221.11M580.89 202.09V221.67M582.69 202.28V222.15M584.48 202.48V222.56M586.27 202.68V222.88M588.06 202.9V223.11M589.86 203.12V223.27M591.65 203.35V223.38M593.44 203.56V223.46M595.24 203.72V223.51M597.03 203.8V223.5M598.82 203.81V223.43M600.62 203.76V223.29M602.41 203.68V223.08M604.2 203.56V222.83M606 203.37V222.53M607.79 203.08V222.18M609.58 202.66V221.79M611.37 202.13V221.38M613.17 201.53V221M614.96 200.88V220.68M616.75 200.19V220.44M618.55 199.45V220.24M620.34 198.65V220.07M622.13 197.81V219.89M623.92 196.93V219.7M625.72 196.01V219.48M627.51 195.05V219.22M629.3 194.06V218.93M631.1 193.05V218.57M632.89 192.05V218.11M634.68 191.05V217.5M636.48 190.06V216.73M638.27 189.07V215.82M640.06 188.08V214.83M641.86 187.09V213.78M643.65 186.08V212.68M645.44 185.08V211.54M647.23 184.15V210.34M649.03 183.35V209.12M650.82 182.75V207.88M652.61 182.33V206.62M654.41 182.08V205.36M656.2 182.06V204.12M657.99 182.26V202.95M659.78 182.66V201.9M661.58 183.15V200.95M663.37 183.65V200.09M665.16 184.14V199.3M666.96 184.62V198.6M668.75 185.15V197.95" stroke="#000" stroke-width="0.68" fill="none"/>
<polyline points="489.45,191.45 491.24,191.76 493.04,192.13 494.83,192.56 496.62,193.04 498.41,193.58 500.21,194.15 502,194.71 503.79,195.24 505.59,195.74 507.38,196.18 509.17,196.57 510.97,196.93 512.76,197.28 514.55,197.61 516.35,197.96 518.14,198.3 519.93,198.66 521.72,199.01 523.52,199.37 525.31,199.72 527.1,200.08 528.9,200.43 530.69,200.79 532.48,201.14 534.27,201.5 536.07,201.85 537.86,202.21 539.65,202.56 541.45,202.91 543.24,203.25 545.03,203.61 546.83,203.97 548.62,204.34 550.41,204.73 552.21,205.15 554,205.58 555.79,206.02 557.58,206.46 559.38,206.9 561.17,207.32 562.96,207.74 564.76,208.15 566.55,208.57 568.34,208.97 570.13,209.38 571.93,209.78 573.72,210.18 575.51,210.58 577.31,210.97 579.1,211.35 580.89,211.73 582.69,212.11 584.48,212.47 586.27,212.8 588.06,213.1 589.86,213.38 591.65,213.62 593.44,213.83 595.24,213.97 597.03,214.04 598.82,214.05 600.62,214.01 602.41,213.93 604.2,213.81 606,213.65 607.79,213.41 609.58,213.08 611.37,212.67 613.17,212.22 614.96,211.73 616.75,211.21 618.55,210.65 620.34,210.06 622.13,209.43 623.92,208.76 625.72,208.05 627.51,207.3 629.3,206.51 631.1,205.68 632.89,204.81 634.68,203.89 636.48,202.93 638.27,201.94 640.06,200.93 641.86,199.92 643.65,198.9 645.44,197.88 647.23,196.88 649.03,195.94 650.82,195.06 652.61,194.24 654.41,193.49 656.2,192.81 657.99,192.22 659.78,191.75 661.58,191.41 663.37,191.23 665.16,191.19 666.96,191.3 668.75,191.65" stroke="#000" stroke-width="1.15" fill="none" stroke-linejoin="round"/>
<line x1="485.5" y1="161.6" x2="485.5" y2="261.1" stroke="#9c9c9c" stroke-width="1"/>
<line x1="489" y1="262.8" x2="668.9" y2="262.8" stroke="#a6a6a6" stroke-width="1.2"/>
<path d="M485.5 162.1h2.2M485.5 171.95h1.2M485.5 181.8h2.2M485.5 191.65h1.2M485.5 201.5h2.2M485.5 211.35h1.2M485.5 221.2h2.2M485.5 231.05h1.2M485.5 240.9h2.2M485.5 250.75h1.2M485.5 260.6h2.2M489.3 262.8v-1.8M525.16 262.8v-1.8M561.02 262.8v-1.8M596.88 262.8v-1.8M632.74 262.8v-1.8M668.6 262.8v-1.8" stroke="#9c9c9c" stroke-width="0.9" fill="none"/>
<text class="t" x="483.3" y="164.3" text-anchor="end">40</text>
<text class="t" x="483.3" y="184" text-anchor="end">20</text>
<text class="t" x="483.3" y="203.7" text-anchor="end">0</text>
<text class="t" x="483.3" y="223.4" text-anchor="end">-20</text>
<text class="t" x="483.3" y="243.1" text-anchor="end">-40</text>
<text class="t" x="483.3" y="262.8" text-anchor="end">-60</text>
<text class="yl" transform="translate(465.3 214.35) rotate(-90)" text-anchor="middle">Shank ( <tspan dy="-3.9" font-size="5.6px" stroke-width="0.1">o</tspan><tspan dy="3.9">)</tspan></text>
</g>
<g>
<polygon fill="#b2b2b2" points="45.45,313 47.24,313.09 49.04,313.3 50.83,313.59 52.62,313.94 54.41,314.35 56.21,314.88 58,315.56 59.79,316.38 61.59,317.29 63.38,318.29 65.17,319.4 66.97,320.66 68.76,322.01 70.55,323.35 72.34,324.6 74.14,325.77 75.93,326.88 77.72,327.95 79.52,329 81.31,330.03 83.1,331.04 84.9,332.02 86.69,332.98 88.48,333.96 90.28,334.98 92.07,336.05 93.86,337.17 95.65,338.28 97.45,339.35 99.24,340.33 101.03,341.23 102.83,342.07 104.62,342.85 106.41,343.59 108.2,344.28 110,344.94 111.79,345.56 113.58,346.15 115.38,346.71 117.17,347.24 118.96,347.74 120.76,348.21 122.55,348.67 124.34,349.11 126.13,349.53 127.93,349.95 129.72,350.34 131.51,350.73 133.31,351.12 135.1,351.51 136.89,351.9 138.69,352.29 140.48,352.69 142.27,353.08 144.06,353.49 145.86,353.95 147.65,354.44 149.44,354.89 151.24,355.23 153.03,355.38 154.82,355.36 156.62,355.23 158.41,355.02 160.2,354.75 162,354.4 163.79,353.87 165.58,353.09 167.37,352.08 169.17,350.85 170.96,349.38 172.75,347.49 174.55,345.17 176.34,342.68 178.13,340.2 179.92,337.63 181.72,334.85 183.51,331.78 185.3,328.49 187.1,325.13 188.89,321.78 190.68,318.48 192.48,315.36 194.27,312.44 196.06,309.8 197.86,307.59 199.65,305.83 201.44,304.4 203.23,303.21 205.03,302.26 206.82,301.8 208.61,301.98 210.41,302.71 212.2,303.99 213.99,305.67 215.78,307.33 217.58,308.75 219.37,309.97 221.16,310.99 222.96,311.77 224.75,312.35 224.75,329.22 222.96,328.42 221.16,327.84 219.37,327.45 217.58,327.22 215.78,327.17 213.99,327.37 212.2,327.82 210.41,328.48 208.61,329.25 206.82,330.07 205.03,330.97 203.23,332.02 201.44,333.19 199.65,334.46 197.86,335.8 196.06,337.24 194.27,338.78 192.48,340.43 190.68,342.17 188.89,344.01 187.1,345.99 185.3,348.1 183.51,350.29 181.72,352.47 179.92,354.61 178.13,356.72 176.34,358.81 174.55,360.84 172.75,362.72 170.96,364.41 169.17,365.96 167.37,367.43 165.58,368.73 163.79,369.74 162,370.41 160.2,370.78 158.41,371.01 156.62,371.2 154.82,371.41 153.03,371.72 151.24,372.21 149.44,372.88 147.65,373.65 145.86,374.4 144.06,375.08 142.27,375.69 140.48,376.28 138.69,376.8 136.89,377.16 135.1,377.3 133.31,377.17 131.51,376.82 129.72,376.3 127.93,375.71 126.13,375.09 124.34,374.43 122.55,373.7 120.76,372.87 118.96,371.96 117.17,370.93 115.38,369.71 113.58,368.38 111.79,367.15 110,366.13 108.2,365.24 106.41,364.44 104.62,363.67 102.83,362.89 101.03,362.05 99.24,361.12 97.45,360.06 95.65,358.87 93.86,357.62 92.07,356.4 90.28,355.29 88.48,354.35 86.69,353.59 84.9,352.94 83.1,352.31 81.31,351.64 79.52,350.91 77.72,350.13 75.93,349.32 74.14,348.48 72.34,347.63 70.55,346.76 68.76,345.89 66.97,345.02 65.17,344.16 63.38,343.32 61.59,342.48 59.79,341.64 58,340.81 56.21,339.97 54.41,339.14 52.62,338.3 50.83,337.46 49.04,336.63 47.24,335.8 45.45,334.96"/>
<line x1="45.3" y1="359.53" x2="224.6" y2="359.53" stroke="#333" stroke-width="0.7"/>
<path d="M45.45 325.13V342.66M47.24 325.97V343.51M49.04 326.78V344.3M50.83 327.63V345.1M52.62 328.51V345.93M54.41 329.41V346.76M56.21 330.34V347.61M58 331.3V348.46M59.79 332.29V349.31M61.59 333.3V350.16M63.38 334.33V351M65.17 335.39V351.82M66.97 336.48V352.63M68.76 337.57V353.44M70.55 338.64V354.28M72.34 339.67V355.16M74.14 340.66V356.08M75.93 341.61V357.05M77.72 342.52V358.04M79.52 343.41V359.03M81.31 344.28V360M83.1 345.12V360.95M84.9 345.94V361.87M86.69 346.73V362.79M88.48 347.48V363.7M90.28 348.19V364.62M92.07 348.86V365.55M93.86 349.49V366.48M95.65 350.08V367.4M97.45 350.63V368.3M99.24 351.15V369.17M101.03 351.65V370.02M102.83 352.11V370.84M104.62 352.54V371.63M106.41 352.93V372.38M108.2 353.28V373.11M110 353.59V373.81M111.79 353.87V374.49M113.58 354.1V375.12M115.38 354.29V375.69M117.17 354.41V376.2M118.96 354.49V376.67M120.76 354.54V377.08M122.55 354.58V377.42M124.34 354.6V377.67M126.13 354.61V377.8M127.93 354.6V377.86M129.72 354.58V377.88M131.51 354.54V377.88M133.31 354.46V377.87M135.1 354.27V377.83M136.89 353.9V377.74M138.69 353.3V377.58M140.48 352.54V377.37M142.27 351.72V377.14M144.06 350.93V376.91M145.86 350.2V376.68M147.65 349.51V376.47M149.44 348.86V376.26M151.24 348.21V376.09M153.03 347.59V375.96M154.82 346.98V375.86M156.62 346.38V375.79M158.41 345.79V375.73M160.2 345.21V375.63M162 344.63V375.43M163.79 344.05V375.07M165.58 343.48V374.51M167.37 342.89V373.77M169.17 342.28V372.88M170.96 341.63V371.89M172.75 340.92V370.78M174.55 340.17V369.54M176.34 339.38V368.18M178.13 338.57V366.73M179.92 337.74V365.21M181.72 336.89V363.62M183.51 336.03V362.01M185.3 335.14V360.43M187.1 334.23V358.93M188.89 333.28V357.58M190.68 332.28V356.39M192.48 331.25V355.34M194.27 330.19V354.36M196.06 329.14V353.41M197.86 328.09V352.44M199.65 327.05V351.44M201.44 326.04V350.42M203.23 325.04V349.42M205.03 324.09V348.49M206.82 323.16V347.62M208.61 322.25V346.82M210.41 321.38V346.09M212.2 320.62V345.47M213.99 320.07V345.02M215.78 319.78V344.77M217.58 319.72V344.66M219.37 319.85V344.63M221.16 320.1V344.62M222.96 320.5V344.62M224.75 321.2V344.62" stroke="#000" stroke-width="0.68" fill="none"/>
<polyline points="45.45,333.32 47.24,334.32 49.04,335.22 50.83,336.12 52.62,337.01 54.41,337.88 56.21,338.73 58,339.55 59.79,340.37 61.59,341.19 63.38,342.02 65.17,342.88 66.97,343.75 68.76,344.64 70.55,345.53 72.34,346.44 74.14,347.35 75.93,348.27 77.72,349.19 79.52,350.1 81.31,350.99 83.1,351.86 84.9,352.72 86.69,353.57 88.48,354.43 90.28,355.31 92.07,356.22 93.86,357.15 95.65,358.07 97.45,358.97 99.24,359.81 101.03,360.6 102.83,361.35 104.62,362.04 106.41,362.68 108.2,363.25 110,363.78 111.79,364.25 113.58,364.68 115.38,365.06 117.17,365.41 118.96,365.73 120.76,366.01 122.55,366.25 124.34,366.42 126.13,366.51 127.93,366.53 129.72,366.5 131.51,366.43 133.31,366.32 135.1,366.14 136.89,365.84 138.69,365.42 140.48,364.9 142.27,364.36 144.06,363.86 145.86,363.4 147.65,362.99 149.44,362.6 151.24,362.21 153.03,361.83 154.82,361.46 156.62,361.08 158.41,360.7 160.2,360.27 162,359.8 163.79,359.25 165.58,358.64 167.37,357.94 169.17,357.18 170.96,356.32 172.75,355.36 174.55,354.3 176.34,353.17 178.13,352.02 179.92,350.88 181.72,349.78 183.51,348.7 185.3,347.65 187.1,346.63 188.89,345.65 190.68,344.72 192.48,343.82 194.27,342.94 196.06,342.06 197.86,341.17 199.65,340.26 201.44,339.34 203.23,338.39 205.03,337.39 206.82,336.34 208.61,335.23 210.41,334.14 212.2,333.17 213.99,332.41 215.78,331.88 217.58,331.63 219.37,331.68 221.16,331.93 222.96,332.42 224.75,333.32" stroke="#000" stroke-width="1.15" fill="none" stroke-linejoin="round"/>
<line x1="41.5" y1="293.5" x2="41.5" y2="392.8" stroke="#9c9c9c" stroke-width="1"/>
<line x1="45" y1="394.7" x2="224.9" y2="394.7" stroke="#a6a6a6" stroke-width="1.2"/>
<path d="M41.5 294h2.2M41.5 302.19h1.2M41.5 310.38h2.2M41.5 318.57h1.2M41.5 326.77h2.2M41.5 334.96h1.2M41.5 343.15h2.2M41.5 351.34h1.2M41.5 359.53h2.2M41.5 367.73h1.2M41.5 375.92h2.2M41.5 384.11h1.2M41.5 392.3h2.2M45.3 394.7v-1.8M81.16 394.7v-1.8M117.02 394.7v-1.8M152.88 394.7v-1.8M188.74 394.7v-1.8M224.6 394.7v-1.8" stroke="#9c9c9c" stroke-width="0.9" fill="none"/>
<text class="t" x="39.3" y="296.2" text-anchor="end">40</text>
<text class="t" x="39.3" y="312.58" text-anchor="end">30</text>
<text class="t" x="39.3" y="328.97" text-anchor="end">20</text>
<text class="t" x="39.3" y="345.35" text-anchor="end">10</text>
<text class="t" x="39.3" y="361.73" text-anchor="end">0</text>
<text class="t" x="39.3" y="378.12" text-anchor="end">-10</text>
<text class="t" x="39.3" y="394.5" text-anchor="end">-20</text>
<text class="yl" transform="translate(22.9 344.65) rotate(-90)" text-anchor="middle">Thigh ( <tspan dy="-3.9" font-size="5.6px" stroke-width="0.1">o</tspan><tspan dy="3.9">)</tspan></text>
</g>
<g>
<polygon fill="#b2b2b2" points="267.45,314.81 269.24,315.59 271.04,316.39 272.83,317.24 274.62,318.12 276.41,319.03 278.21,319.97 280,320.96 281.79,322 283.59,323.08 285.38,324.18 287.17,325.29 288.97,326.38 290.76,327.47 292.55,328.56 294.34,329.65 296.14,330.73 297.93,331.8 299.72,332.84 301.52,333.87 303.31,334.89 305.1,335.9 306.9,336.88 308.69,337.82 310.48,338.7 312.27,339.52 314.07,340.28 315.86,341.01 317.65,341.71 319.45,342.39 321.24,343.07 323.03,343.76 324.83,344.44 326.62,345.13 328.41,345.79 330.2,346.42 332,347.03 333.79,347.63 335.58,348.2 337.38,348.72 339.17,349.2 340.96,349.64 342.76,350.04 344.55,350.41 346.34,350.73 348.13,350.99 349.93,351.19 351.72,351.35 353.51,351.5 355.31,351.66 357.1,351.86 358.89,352.13 360.69,352.46 362.48,352.82 364.27,353.16 366.06,353.46 367.86,353.73 369.65,353.98 371.44,354.21 373.24,354.36 375.03,354.42 376.82,354.38 378.62,354.25 380.41,354.04 382.2,353.77 384,353.39 385.79,352.78 387.58,351.82 389.37,350.58 391.17,349.12 392.96,347.45 394.75,345.45 396.55,343.13 398.34,340.75 400.13,338.46 401.92,336.22 403.72,333.96 405.51,331.69 407.3,329.39 409.1,327.08 410.89,324.74 412.68,322.43 414.48,320.28 416.27,318.32 418.06,316.56 419.86,315.04 421.65,313.74 423.44,312.69 425.23,311.95 427.03,311.49 428.82,311.21 430.61,311.08 432.41,311.08 434.2,311.14 435.99,311.25 437.78,311.44 439.58,311.86 441.37,312.53 443.16,313.37 444.96,314.37 446.75,315.63 446.75,328.4 444.96,327.47 443.16,326.73 441.37,326.25 439.58,326.03 437.78,326.03 435.99,326.17 434.2,326.38 432.41,326.7 430.61,327.24 428.82,328.18 427.03,329.46 425.23,330.89 423.44,332.31 421.65,333.7 419.86,335.1 418.06,336.57 416.27,338.12 414.48,339.77 412.68,341.55 410.89,343.4 409.1,345.27 407.3,347.11 405.51,348.94 403.72,350.75 401.92,352.53 400.13,354.27 398.34,355.99 396.55,357.74 394.75,359.48 392.96,361.12 391.17,362.58 389.37,363.79 387.58,364.71 385.79,365.46 384,366.11 382.2,366.68 380.41,367.2 378.62,367.67 376.82,368.12 375.03,368.55 373.24,368.98 371.44,369.44 369.65,369.91 367.86,370.4 366.06,370.88 364.27,371.34 362.48,371.75 360.69,372.11 358.89,372.38 357.1,372.56 355.31,372.66 353.51,372.73 351.72,372.78 349.93,372.83 348.13,372.87 346.34,372.9 344.55,372.93 342.76,372.95 340.96,372.96 339.17,372.93 337.38,372.77 335.58,372.41 333.79,371.86 332,371.14 330.2,370.29 328.41,369.34 326.62,368.33 324.83,367.3 323.03,366.27 321.24,365.26 319.45,364.2 317.65,363.05 315.86,361.81 314.07,360.5 312.27,359.13 310.48,357.75 308.69,356.37 306.9,355.03 305.1,353.73 303.31,352.5 301.52,351.31 299.72,350.13 297.93,348.96 296.14,347.8 294.34,346.66 292.55,345.56 290.76,344.51 288.97,343.51 287.17,342.57 285.38,341.69 283.59,340.87 281.79,340.07 280,339.31 278.21,338.58 276.41,337.88 274.62,337.21 272.83,336.59 271.04,336 269.24,335.46 267.45,334.96"/>
<line x1="267.3" y1="359.53" x2="446.6" y2="359.53" stroke="#333" stroke-width="0.7"/>
<path d="M267.45 322.18V342.99M269.24 323.07V343.7M271.04 323.96V344.37M272.83 324.93V345.05M274.62 325.95V345.75M276.41 327.03V346.47M278.21 328.11V347.24M280 329.19V348.06M281.79 330.25V348.94M283.59 331.33V349.84M285.38 332.41V350.73M287.17 333.48V351.61M288.97 334.5V352.44M290.76 335.45V353.24M292.55 336.33V353.99M294.34 337.2V354.72M296.14 338.1V355.44M297.93 339V356.15M299.72 339.86V356.85M301.52 340.65V357.54M303.31 341.38V358.24M305.1 342.09V358.99M306.9 342.82V359.84M308.69 343.56V360.78M310.48 344.27V361.78M312.27 344.9V362.77M314.07 345.47V363.74M315.86 346.04V364.68M317.65 346.65V365.57M319.45 347.3V366.4M321.24 347.96V367.16M323.03 348.59V367.85M324.83 349.17V368.47M326.62 349.7V369.06M328.41 350.2V369.63M330.2 350.67V370.2M332 351.11V370.79M333.79 351.51V371.37M335.58 351.87V371.94M337.38 352.2V372.46M339.17 352.5V372.91M340.96 352.77V373.31M342.76 353.02V373.66M344.55 353.22V373.96M346.34 353.35V374.2M348.13 353.41V374.4M349.93 353.41V374.54M351.72 353.35V374.65M353.51 353.24V374.74M355.31 353.07V374.85M357.1 352.77V374.98M358.89 352.24V375.16M360.69 351.47V375.38M362.48 350.5V375.59M364.27 349.48V375.74M366.06 348.49V375.81M367.86 347.57V375.77M369.65 346.72V375.64M371.44 345.89V375.44M373.24 345.1V375.19M375.03 344.33V374.92M376.82 343.58V374.62M378.62 342.86V374.28M380.41 342.15V373.88M382.2 341.42V373.41M384 340.65V372.81M385.79 339.84V372.04M387.58 338.99V371.09M389.37 338.11V370.02M391.17 337.19V368.89M392.96 336.25V367.78M394.75 335.27V366.71M396.55 334.26V365.67M398.34 333.22V364.63M400.13 332.12V363.55M401.92 330.95V362.42M403.72 329.71V361.23M405.51 328.41V359.98M407.3 327.09V358.67M409.1 325.78V357.33M410.89 324.51V356.03M412.68 323.35V354.81M414.48 322.35V353.68M416.27 321.52V352.6M418.06 320.84V351.55M419.86 320.26V350.52M421.65 319.75V349.5M423.44 319.3V348.5M425.23 318.9V347.51M427.03 318.56V346.54M428.82 318.29V345.6M430.61 318.08V344.71M432.41 317.9V343.94M434.2 317.77V343.37M435.99 317.7V343.02M437.78 317.73V342.84M439.58 317.91V342.83M441.37 318.26V343M443.16 318.74V343.31M444.96 319.38V343.83M446.75 320.21V344.62" stroke="#000" stroke-width="0.68" fill="none"/>
<polyline points="267.45,333.16 269.24,334 271.04,334.78 272.83,335.58 274.62,336.38 276.41,337.18 278.21,337.99 280,338.79 281.79,339.59 283.59,340.38 285.38,341.19 287.17,342.01 288.97,342.84 290.76,343.7 292.55,344.57 294.34,345.47 296.14,346.36 297.93,347.25 299.72,348.12 301.52,348.98 303.31,349.83 305.1,350.66 306.9,351.47 308.69,352.25 310.48,352.98 312.27,353.67 314.07,354.32 315.86,354.93 317.65,355.52 319.45,356.12 321.24,356.73 323.03,357.37 324.83,358.04 326.62,358.71 328.41,359.37 330.2,359.98 332,360.56 333.79,361.09 335.58,361.59 337.38,362.04 339.17,362.46 340.96,362.84 342.76,363.18 344.55,363.48 346.34,363.73 348.13,363.91 349.93,364.04 351.72,364.13 353.51,364.2 355.31,364.24 357.1,364.23 358.89,364.16 360.69,364.02 362.48,363.81 364.27,363.55 366.06,363.24 367.86,362.85 369.65,362.39 371.44,361.85 373.24,361.28 375.03,360.68 376.82,360.08 378.62,359.46 380.41,358.8 382.2,358.1 384,357.33 385.79,356.49 387.58,355.56 389.37,354.57 391.17,353.53 392.96,352.46 394.75,351.34 396.55,350.18 398.34,348.99 400.13,347.79 401.92,346.59 403.72,345.39 405.51,344.19 407.3,343 409.1,341.85 410.89,340.73 412.68,339.66 414.48,338.63 416.27,337.65 418.06,336.71 419.86,335.82 421.65,334.99 423.44,334.2 425.23,333.45 427.03,332.71 428.82,331.97 430.61,331.26 432.41,330.67 434.2,330.28 435.99,330.11 437.78,330.09 439.58,330.2 441.37,330.48 443.16,330.9 444.96,331.57 446.75,332.5" stroke="#000" stroke-width="1.15" fill="none" stroke-linejoin="round"/>
<line x1="263.5" y1="293.5" x2="263.5" y2="392.8" stroke="#9c9c9c" stroke-width="1"/>
<line x1="267" y1="394.7" x2="446.9" y2="394.7" stroke="#a6a6a6" stroke-width="1.2"/>
<path d="M263.5 294h2.2M263.5 302.19h1.2M263.5 310.38h2.2M263.5 318.57h1.2M263.5 326.77h2.2M263.5 334.96h1.2M263.5 343.15h2.2M263.5 351.34h1.2M263.5 359.53h2.2M263.5 367.73h1.2M263.5 375.92h2.2M263.5 384.11h1.2M263.5 392.3h2.2M267.3 394.7v-1.8M303.16 394.7v-1.8M339.02 394.7v-1.8M374.88 394.7v-1.8M410.74 394.7v-1.8M446.6 394.7v-1.8" stroke="#9c9c9c" stroke-width="0.9" fill="none"/>
<text class="t" x="261.3" y="296.2" text-anchor="end">40</text>
<text class="t" x="261.3" y="312.58" text-anchor="end">30</text>
<text class="t" x="261.3" y="328.97" text-anchor="end">20</text>
<text class="t" x="261.3" y="345.35" text-anchor="end">10</text>
<text class="t" x="261.3" y="361.73" text-anchor="end">0</text>
<text class="t" x="261.3" y="378.12" text-anchor="end">-10</text>
<text class="t" x="261.3" y="394.5" text-anchor="end">-20</text>
<text class="yl" transform="translate(244.9 344.65) rotate(-90)" text-anchor="middle">Thigh ( <tspan dy="-3.9" font-size="5.6px" stroke-width="0.1">o</tspan><tspan dy="3.9">)</tspan></text>
</g>
<g>
<polygon fill="#b2b2b2" points="489.45,317.59 491.24,318.12 493.04,318.72 494.83,319.39 496.62,320.11 498.41,320.9 500.21,321.77 502,322.73 503.79,323.77 505.59,324.85 507.38,325.96 509.17,327.09 510.97,328.26 512.76,329.46 514.55,330.66 516.35,331.84 518.14,333.02 519.93,334.19 521.72,335.35 523.52,336.48 525.31,337.56 527.1,338.6 528.9,339.6 530.69,340.57 532.48,341.54 534.27,342.5 536.07,343.47 537.86,344.45 539.65,345.41 541.45,346.34 543.24,347.23 545.03,348.09 546.83,348.93 548.62,349.72 550.41,350.47 552.21,351.17 554,351.84 555.79,352.49 557.58,353.08 559.38,353.57 561.17,353.92 562.96,354.17 564.76,354.35 566.55,354.51 568.34,354.65 570.13,354.78 571.93,354.92 573.72,355.06 575.51,355.19 577.31,355.32 579.1,355.44 580.89,355.56 582.69,355.69 584.48,355.8 586.27,355.88 588.06,355.91 589.86,355.89 591.65,355.83 593.44,355.72 595.24,355.59 597.03,355.4 598.82,355.09 600.62,354.61 602.41,353.98 604.2,353.25 606,352.45 607.79,351.51 609.58,350.41 611.37,349.18 613.17,347.89 614.96,346.59 616.75,345.29 618.55,343.95 620.34,342.57 622.13,341.16 623.92,339.7 625.72,338.19 627.51,336.6 629.3,334.9 631.1,333.04 632.89,331.07 634.68,329.06 636.48,327.06 638.27,325.08 640.06,323.17 641.86,321.34 643.65,319.68 645.44,318.39 647.23,317.48 649.03,316.82 650.82,316.3 652.61,315.86 654.41,315.52 656.2,315.35 657.99,315.3 659.78,315.3 661.58,315.37 663.37,315.67 665.16,316.25 666.96,317.14 668.75,318.25 668.75,336.6 666.96,335.77 665.16,335.12 663.37,334.63 661.58,334.32 659.78,334.2 657.99,334.28 656.2,334.51 654.41,334.86 652.61,335.3 650.82,335.85 649.03,336.59 647.23,337.61 645.44,338.84 643.65,340.17 641.86,341.51 640.06,342.88 638.27,344.31 636.48,345.8 634.68,347.34 632.89,348.9 631.1,350.53 629.3,352.21 627.51,353.9 625.72,355.53 623.92,357.04 622.13,358.45 620.34,359.79 618.55,361.07 616.75,362.28 614.96,363.4 613.17,364.43 611.37,365.41 609.58,366.36 607.79,367.25 606,368.04 604.2,368.68 602.41,369.16 600.62,369.5 598.82,369.78 597.03,370.01 595.24,370.19 593.44,370.34 591.65,370.47 589.86,370.59 588.06,370.7 586.27,370.79 584.48,370.88 582.69,370.94 580.89,370.98 579.1,371 577.31,371 575.51,370.98 573.72,370.97 571.93,370.94 570.13,370.91 568.34,370.87 566.55,370.83 564.76,370.78 562.96,370.73 561.17,370.66 559.38,370.56 557.58,370.4 555.79,370.18 554,369.91 552.21,369.6 550.41,369.26 548.62,368.89 546.83,368.51 545.03,368.12 543.24,367.72 541.45,367.29 539.65,366.83 537.86,366.33 536.07,365.78 534.27,365.21 532.48,364.6 530.69,363.97 528.9,363.32 527.1,362.66 525.31,361.98 523.52,361.27 521.72,360.51 519.93,359.71 518.14,358.87 516.35,358.02 514.55,357.15 512.76,356.29 510.97,355.44 509.17,354.61 507.38,353.81 505.59,353.03 503.79,352.26 502,351.51 500.21,350.76 498.41,350.02 496.62,349.28 494.83,348.56 493.04,347.84 491.24,347.13 489.45,346.43"/>
<line x1="489.3" y1="359.53" x2="668.6" y2="359.53" stroke="#333" stroke-width="0.7"/>
<path d="M489.45 333.98V350.52M491.24 335.61V351.07M493.04 336.93V351.62M494.83 338.09V352.21M496.62 339.17V352.84M498.41 340.13V353.5M500.21 340.99V354.19M502 341.78V354.93M503.79 342.53V355.72M505.59 343.25V356.57M507.38 343.95V357.52M509.17 344.64V358.59M510.97 345.3V359.75M512.76 345.95V360.96M514.55 346.6V362.12M516.35 347.26V363.18M518.14 347.92V364.13M519.93 348.59V364.99M521.72 349.25V365.78M523.52 349.89V366.51M525.31 350.5V367.2M527.1 351.08V367.85M528.9 351.64V368.46M530.69 352.16V369.05M532.48 352.66V369.62M534.27 353.12V370.19M536.07 353.54V370.77M537.86 353.94V371.34M539.65 354.3V371.9M541.45 354.63V372.44M543.24 354.91V372.93M545.03 355.16V373.37M546.83 355.37V373.78M548.62 355.57V374.18M550.41 355.75V374.56M552.21 355.94V374.95M554 356.14V375.36M555.79 356.33V375.77M557.58 356.5V376.17M559.38 356.63V376.54M561.17 356.69V376.87M562.96 356.7V377.15M564.76 356.66V377.4M566.55 356.59V377.61M568.34 356.5V377.75M570.13 356.38V377.84M571.93 356.21V377.87M573.72 356.01V377.88M575.51 355.77V377.89M577.31 355.53V377.9M579.1 355.31V377.95M580.89 355.11V378.07M582.69 354.94V378.26M584.48 354.78V378.48M586.27 354.62V378.67M588.06 354.45V378.77M589.86 354.29V378.79M591.65 354.11V378.74M593.44 353.92V378.64M595.24 353.68V378.49M597.03 353.36V378.29M598.82 352.93V377.99M600.62 352.37V377.59M602.41 351.7V377.08M604.2 350.95V376.51M606 350.16V375.89M607.79 349.33V375.23M609.58 348.44V374.51M611.37 347.52V373.72M613.17 346.57V372.85M614.96 345.61V371.87M616.75 344.64V370.76M618.55 343.66V369.52M620.34 342.67V368.16M622.13 341.68V366.71M623.92 340.69V365.19M625.72 339.7V363.6M627.51 338.71V362.02M629.3 337.72V360.53M631.1 336.74V359.15M632.89 335.77V357.85M634.68 334.8V356.55M636.48 333.85V355.23M638.27 332.95V353.93M640.06 332.14V352.71M641.86 331.44V351.59M643.65 330.85V350.58M645.44 330.34V349.66M647.23 329.93V348.85M649.03 329.65V348.19M650.82 329.51V347.69M652.61 329.49V347.33M654.41 329.56V347.05M656.2 329.69V346.85M657.99 329.88V346.73M659.78 330.13V346.71M661.58 330.48V346.82M663.37 330.95V347.07M665.16 331.51V347.43M666.96 332.17V347.9M668.75 332.99V348.56" stroke="#000" stroke-width="0.68" fill="none"/>
<polyline points="489.45,342.33 491.24,343.25 493.04,344.08 494.83,344.92 496.62,345.75 498.41,346.57 500.21,347.37 502,348.15 503.79,348.94 505.59,349.74 507.38,350.57 509.17,351.45 510.97,352.36 512.76,353.29 514.55,354.2 516.35,355.07 518.14,355.9 519.93,356.7 521.72,357.45 523.52,358.17 525.31,358.84 527.1,359.46 528.9,360.05 530.69,360.61 532.48,361.14 534.27,361.65 536.07,362.15 537.86,362.62 539.65,363.08 541.45,363.52 543.24,363.95 545.03,364.35 546.83,364.74 548.62,365.11 550.41,365.44 552.21,365.74 554,366.01 555.79,366.26 557.58,366.46 559.38,366.61 561.17,366.68 562.96,366.7 564.76,366.68 566.55,366.64 568.34,366.61 570.13,366.59 571.93,366.58 573.72,366.58 575.51,366.58 577.31,366.58 579.1,366.59 580.89,366.61 582.69,366.64 584.48,366.68 586.27,366.71 588.06,366.71 589.86,366.68 591.65,366.62 593.44,366.52 595.24,366.37 597.03,366.14 598.82,365.8 600.62,365.33 602.41,364.72 604.2,364.02 606,363.25 607.79,362.41 609.58,361.49 611.37,360.49 613.17,359.44 614.96,358.36 616.75,357.24 618.55,356.08 620.34,354.89 622.13,353.69 623.92,352.49 625.72,351.29 627.51,350.09 629.3,348.9 631.1,347.75 632.89,346.63 634.68,345.57 636.48,344.55 638.27,343.56 640.06,342.61 641.86,341.68 643.65,340.8 645.44,340.02 647.23,339.39 649.03,338.94 650.82,338.65 652.61,338.51 654.41,338.48 656.2,338.53 657.99,338.64 659.78,338.83 661.58,339.13 663.37,339.58 665.16,340.13 666.96,340.81 668.75,341.68" stroke="#000" stroke-width="1.15" fill="none" stroke-linejoin="round"/>
<line x1="485.5" y1="293.5" x2="485.5" y2="392.8" stroke="#9c9c9c" stroke-width="1"/>
<line x1="489" y1="394.7" x2="668.9" y2="394.7" stroke="#a6a6a6" stroke-width="1.2"/>
<path d="M485.5 294h2.2M485.5 302.19h1.2M485.5 310.38h2.2M485.5 318.57h1.2M485.5 326.77h2.2M485.5 334.96h1.2M485.5 343.15h2.2M485.5 351.34h1.2M485.5 359.53h2.2M485.5 367.73h1.2M485.5 375.92h2.2M485.5 384.11h1.2M485.5 392.3h2.2M489.3 394.7v-1.8M525.16 394.7v-1.8M561.02 394.7v-1.8M596.88 394.7v-1.8M632.74 394.7v-1.8M668.6 394.7v-1.8" stroke="#9c9c9c" stroke-width="0.9" fill="none"/>
<text class="t" x="483.3" y="296.2" text-anchor="end">40</text>
<text class="t" x="483.3" y="312.58" text-anchor="end">30</text>
<text class="t" x="483.3" y="328.97" text-anchor="end">20</text>
<text class="t" x="483.3" y="345.35" text-anchor="end">10</text>
<text class="t" x="483.3" y="361.73" text-anchor="end">0</text>
<text class="t" x="483.3" y="378.12" text-anchor="end">-10</text>
<text class="t" x="483.3" y="394.5" text-anchor="end">-20</text>
<text class="yl" transform="translate(466.9 344.65) rotate(-90)" text-anchor="middle">Thigh ( <tspan dy="-3.9" font-size="5.6px" stroke-width="0.1">o</tspan><tspan dy="3.9">)</tspan></text>
</g>
<g>
<polygon fill="#b2b2b2" points="45.45,475.35 47.24,475.31 49.04,475.28 50.83,475.24 52.62,475.21 54.41,475.18 56.21,475.16 58,475.13 59.79,475.12 61.59,475.11 63.38,475.1 65.17,475.1 66.97,475.1 68.76,475.1 70.55,475.1 72.34,475.1 74.14,475.1 75.93,475.1 77.72,475.1 79.52,475.1 81.31,475.1 83.1,475.1 84.9,475.09 86.69,475.07 88.48,475.05 90.28,475.03 92.07,475 93.86,474.97 95.65,474.93 97.45,474.89 99.24,474.85 101.03,474.79 102.83,474.71 104.62,474.6 106.41,474.49 108.2,474.36 110,474.23 111.79,474.12 113.58,474.01 115.38,473.93 117.17,473.87 118.96,473.83 120.76,473.8 122.55,473.78 124.34,473.76 126.13,473.74 127.93,473.73 129.72,473.71 131.51,473.68 133.31,473.65 135.1,473.61 136.89,473.56 138.69,473.48 140.48,473.39 142.27,473.26 144.06,473.07 145.86,472.74 147.65,472.24 149.44,471.66 151.24,471.11 153.03,470.69 154.82,470.37 156.62,470.11 158.41,469.89 160.2,469.75 162,469.71 163.79,469.82 165.58,470.07 167.37,470.41 169.17,470.78 170.96,471.13 172.75,471.43 174.55,471.72 176.34,472.01 178.13,472.31 179.92,472.65 181.72,473.03 183.51,473.47 185.3,473.9 187.1,474.28 188.89,474.58 190.68,474.82 192.48,475.01 194.27,475.18 196.06,475.29 197.86,475.34 199.65,475.35 201.44,475.35 203.23,475.35 205.03,475.35 206.82,475.35 208.61,475.35 210.41,475.35 212.2,475.35 213.99,475.35 215.78,475.35 217.58,475.35 219.37,475.35 221.16,475.35 222.96,475.35 224.75,475.35 224.75,501.09 222.96,501.31 221.16,501.45 219.37,501.53 217.58,501.57 215.78,501.56 213.99,501.47 212.2,501.29 210.41,501.02 208.61,500.69 206.82,500.32 205.03,499.86 203.23,499.31 201.44,498.71 199.65,498.11 197.86,497.51 196.06,496.91 194.27,496.45 192.48,496.24 190.68,496.32 188.89,496.56 187.1,496.86 185.3,497.1 183.51,497.28 181.72,497.42 179.92,497.53 178.13,497.64 176.34,497.75 174.55,497.86 172.75,497.99 170.96,498.13 169.17,498.29 167.37,498.48 165.58,498.68 163.79,498.89 162,499.11 160.2,499.33 158.41,499.54 156.62,499.74 154.82,499.93 153.03,500.09 151.24,500.24 149.44,500.38 147.65,500.51 145.86,500.63 144.06,500.75 142.27,500.87 140.48,500.98 138.69,501.1 136.89,501.22 135.1,501.34 133.31,501.46 131.51,501.59 129.72,501.72 127.93,501.85 126.13,501.97 124.34,502.1 122.55,502.22 120.76,502.34 118.96,502.46 117.17,502.58 115.38,502.69 113.58,502.82 111.79,502.95 110,503.08 108.2,503.2 106.41,503.32 104.62,503.41 102.83,503.49 101.03,503.54 99.24,503.54 97.45,503.49 95.65,503.37 93.86,503.2 92.07,503.01 90.28,502.81 88.48,502.6 86.69,502.35 84.9,502.12 83.1,501.94 81.31,501.86 79.52,501.83 77.72,501.83 75.93,501.83 74.14,501.83 72.34,501.83 70.55,501.83 68.76,501.83 66.97,501.83 65.17,501.83 63.38,501.83 61.59,501.84 59.79,501.86 58,501.9 56.21,501.94 54.41,501.99 52.62,502.05 50.83,502.11 49.04,502.18 47.24,502.25 45.45,502.33"/>
<line x1="45.3" y1="475.35" x2="224.6" y2="475.35" stroke="#333" stroke-width="0.7"/>
<path d="M45.45 463.22V488.22M47.24 463.14V487.59M49.04 463.08V487.11M50.83 463.04V486.75M52.62 463V486.47M54.41 462.99V486.32M56.21 462.99V486.27M58 463.03V486.3M59.79 463.19V486.45M61.59 463.52V486.79M63.38 464.01V487.3M65.17 464.62V487.93M66.97 465.3V488.66M68.76 466.04V489.45M70.55 466.87V490.33M72.34 467.82V491.3M74.14 468.9V492.38M75.93 470.11V493.55M77.72 471.37V494.77M79.52 472.61V495.95M81.31 473.74V497.03M83.1 474.74V498.02M84.9 475.65V498.91M86.69 476.49V499.71M88.48 477.29V500.42M90.28 478.07V501.02M92.07 478.84V501.54M93.86 479.58V501.98M95.65 480.29V502.35M97.45 480.92V502.6M99.24 481.46V502.74M101.03 481.92V502.8M102.83 482.32V502.82M104.62 482.67V502.82M106.41 482.97V502.83M108.2 483.25V502.86M110 483.49V502.92M111.79 483.72V503.04M113.58 483.92V503.19M115.38 484.09V503.38M117.17 484.24V503.58M118.96 484.36V503.8M120.76 484.47V504.04M122.55 484.57V504.29M124.34 484.67V504.54M126.13 484.77V504.77M127.93 484.88V504.98M129.72 484.99V505.17M131.51 485.1V505.37M133.31 485.18V505.61M135.1 485.22V505.92M136.89 485.24V506.36M138.69 485.25V506.89M140.48 485.25V507.42M142.27 485.24V507.85M144.06 485.23V508.09M145.86 485.18V508.16M147.65 485.11V508.12M149.44 485V508.02M151.24 484.88V507.9M153.03 484.76V507.76M154.82 484.62V507.6M156.62 484.49V507.42M158.41 484.34V507.22M160.2 484.18V507M162 484V506.78M163.79 483.8V506.56M165.58 483.58V506.34M167.37 483.34V506.09M169.17 483.05V505.81M170.96 482.71V505.47M172.75 482.31V505.05M174.55 481.83V504.55M176.34 481.28V503.99M178.13 480.66V503.42M179.92 479.97V502.85M181.72 479.19V502.29M183.51 478.32V501.74M185.3 477.42V501.2M187.1 476.51V500.65M188.89 475.66V500.09M190.68 474.87V499.51M192.48 474.13V498.92M194.27 473.43V498.33M196.06 472.78V497.73M197.86 472.19V497.12M199.65 471.65V496.51M201.44 471.15V495.89M203.23 470.67V495.29M205.03 470.15V494.73M206.82 469.57V494.21M208.61 468.9V493.75M210.41 468.16V493.33M212.2 467.36V492.94M213.99 466.53V492.56M215.78 465.72V492.17M217.58 464.91V491.78M219.37 464.12V491.39M221.16 463.34V491M222.96 462.57V490.62M224.75 461.74V490.2" stroke="#000" stroke-width="0.68" fill="none"/>
<polyline points="45.45,476.09 47.24,475.55 49.04,475.18 50.83,474.97 52.62,474.81 54.41,474.72 56.21,474.68 58,474.69 59.79,474.83 61.59,475.16 63.38,475.67 65.17,476.32 66.97,477.06 68.76,477.86 70.55,478.71 72.34,479.59 74.14,480.5 75.93,481.43 77.72,482.38 79.52,483.32 81.31,484.22 83.1,485.09 84.9,485.92 86.69,486.72 88.48,487.47 90.28,488.19 92.07,488.88 93.86,489.53 95.65,490.13 97.45,490.66 99.24,491.12 101.03,491.52 102.83,491.85 104.62,492.15 106.41,492.42 108.2,492.66 110,492.9 111.79,493.12 113.58,493.31 115.38,493.49 117.17,493.64 118.96,493.76 120.76,493.85 122.55,493.95 124.34,494.07 126.13,494.26 127.93,494.53 129.72,494.9 131.51,495.31 133.31,495.72 135.1,496.08 136.89,496.39 138.69,496.64 140.48,496.85 142.27,497 144.06,497.08 145.86,497.11 147.65,497.08 149.44,496.97 151.24,496.74 153.03,496.44 154.82,496.15 156.62,495.88 158.41,495.63 160.2,495.39 162,495.14 163.79,494.87 165.58,494.6 167.37,494.3 169.17,493.98 170.96,493.62 172.75,493.21 174.55,492.76 176.34,492.26 178.13,491.73 179.92,491.17 181.72,490.58 183.51,489.96 185.3,489.31 187.1,488.64 188.89,487.94 190.68,487.2 192.48,486.44 194.27,485.68 196.06,484.98 197.86,484.35 199.65,483.81 201.44,483.35 203.23,482.91 205.03,482.46 206.82,481.98 208.61,481.45 210.41,480.88 212.2,480.28 213.99,479.68 215.78,479.07 217.58,478.47 219.37,477.88 221.16,477.29 222.96,476.72 224.75,476.09" stroke="#000" stroke-width="1.15" fill="none" stroke-linejoin="round"/>
<line x1="41.5" y1="425.1" x2="41.5" y2="525.1" stroke="#9c9c9c" stroke-width="1"/>
<line x1="45" y1="526.6" x2="224.9" y2="526.6" stroke="#808080" stroke-width="1.2"/>
<path d="M41.5 425.6h2.2M41.5 437.98h1.2M41.5 450.35h2.2M41.5 462.73h1.2M41.5 475.1h2.2M41.5 487.48h1.2M41.5 499.85h2.2M41.5 512.23h1.2M41.5 524.6h2.2M45.3 526.6v-1.8M81.16 526.6v-1.8M117.02 526.6v-1.8M152.88 526.6v-1.8M188.74 526.6v-1.8M224.6 526.6v-1.8" stroke="#9c9c9c" stroke-width="0.9" fill="none"/>
<text class="t" x="39.3" y="427.8" text-anchor="end">20</text>
<text class="t" x="39.3" y="452.55" text-anchor="end">10</text>
<text class="t" x="39.3" y="477.3" text-anchor="end">0</text>
<text class="t" x="39.3" y="502.05" text-anchor="end">-10</text>
<text class="t" x="39.3" y="526.8" text-anchor="end">-20</text>
<text class="yl" transform="translate(24.6 476.6) rotate(-90)" text-anchor="middle">Trunk ( <tspan dy="-3.9" font-size="5.6px" stroke-width="0.1">o</tspan><tspan dy="3.9">)</tspan></text>
<text class="t" x="45.3" y="534.9" text-anchor="middle">0</text>
<text class="t" x="81.16" y="534.9" text-anchor="middle">20</text>
<text class="t" x="117.02" y="534.9" text-anchor="middle">40</text>
<text class="t" x="152.88" y="534.9" text-anchor="middle">60</text>
<text class="t" x="188.74" y="534.9" text-anchor="middle">80</text>
<text class="t" x="224.6" y="534.9" text-anchor="middle">100</text>
<text class="xl" x="134.95" y="550" text-anchor="middle">Stride Cycle (%)</text>
</g>
<g>
<polygon fill="#b2b2b2" points="267.45,475.35 269.24,475.31 271.04,475.28 272.83,475.24 274.62,475.21 276.41,475.18 278.21,475.16 280,475.13 281.79,475.12 283.59,475.11 285.38,475.1 287.17,475.1 288.97,475.1 290.76,475.1 292.55,475.1 294.34,475.1 296.14,475.1 297.93,475.1 299.72,475.1 301.52,475.1 303.31,475.1 305.1,475.1 306.9,475.09 308.69,475.07 310.48,475.05 312.27,475.03 314.07,475 315.86,474.97 317.65,474.93 319.45,474.89 321.24,474.85 323.03,474.79 324.83,474.71 326.62,474.6 328.41,474.49 330.2,474.36 332,474.23 333.79,474.12 335.58,474.01 337.38,473.93 339.17,473.87 340.96,473.83 342.76,473.81 344.55,473.78 346.34,473.77 348.13,473.75 349.93,473.73 351.72,473.72 353.51,473.69 355.31,473.66 357.1,473.6 358.89,473.49 360.69,473.31 362.48,473.08 364.27,472.85 366.06,472.63 367.86,472.42 369.65,472.26 371.44,472.19 373.24,472.28 375.03,472.5 376.82,472.8 378.62,473.14 380.41,473.52 382.2,473.95 384,474.32 385.79,474.57 387.58,474.7 389.37,474.78 391.17,474.83 392.96,474.85 394.75,474.84 396.55,474.83 398.34,474.8 400.13,474.77 401.92,474.73 403.72,474.7 405.51,474.66 407.3,474.64 409.1,474.62 410.89,474.63 412.68,474.72 414.48,474.88 416.27,475.08 418.06,475.24 419.86,475.33 421.65,475.35 423.44,475.35 425.23,475.35 427.03,475.35 428.82,475.35 430.61,475.35 432.41,475.35 434.2,475.35 435.99,475.35 437.78,475.35 439.58,475.35 441.37,475.35 443.16,475.35 444.96,475.35 446.75,475.35 446.75,499.11 444.96,499.49 443.16,499.82 441.37,500.07 439.58,500.25 437.78,500.32 435.99,500.33 434.2,500.3 432.41,500.25 430.61,500.17 428.82,500.03 427.03,499.7 425.23,499.13 423.44,498.42 421.65,497.73 419.86,497.17 418.06,496.74 416.27,496.35 414.48,495.98 412.68,495.66 410.89,495.41 409.1,495.25 407.3,495.17 405.51,495.15 403.72,495.15 401.92,495.15 400.13,495.15 398.34,495.15 396.55,495.15 394.75,495.15 392.96,495.15 391.17,495.17 389.37,495.22 387.58,495.28 385.79,495.36 384,495.45 382.2,495.55 380.41,495.64 378.62,495.74 376.82,495.82 375.03,495.89 373.24,495.95 371.44,496 369.65,496.05 367.86,496.1 366.06,496.15 364.27,496.2 362.48,496.25 360.69,496.29 358.89,496.34 357.1,496.39 355.31,496.43 353.51,496.48 351.72,496.52 349.93,496.57 348.13,496.61 346.34,496.66 344.55,496.7 342.76,496.76 340.96,496.82 339.17,496.89 337.38,496.99 335.58,497.11 333.79,497.26 332,497.42 330.2,497.59 328.41,497.75 326.62,497.89 324.83,498 323.03,498.08 321.24,498.11 319.45,498.12 317.65,498.12 315.86,498.12 314.07,498.12 312.27,498.12 310.48,498.12 308.69,498.12 306.9,498.12 305.1,498.12 303.31,498.12 301.52,498.14 299.72,498.18 297.93,498.23 296.14,498.3 294.34,498.37 292.55,498.47 290.76,498.59 288.97,498.74 287.17,498.92 285.38,499.13 283.59,499.41 281.79,499.77 280,500.19 278.21,500.64 276.41,501.09 274.62,501.55 272.83,502.02 271.04,502.52 269.24,503.03 267.45,503.57"/>
<line x1="267.3" y1="475.35" x2="446.6" y2="475.35" stroke="#333" stroke-width="0.7"/>
<path d="M267.45 463.72V489.21M269.24 463.87V488.71M271.04 464.02V488.3M272.83 464.16V487.92M274.62 464.31V487.57M276.41 464.45V487.25M278.21 464.59V486.97M280 464.72V486.72M281.79 464.87V486.52M283.59 465.05V486.41M285.38 465.28V486.43M287.17 465.59V486.64M288.97 466V487.07M290.76 466.51V487.7M292.55 467.1V488.46M294.34 467.79V489.33M296.14 468.61V490.35M297.93 469.55V491.5M299.72 470.56V492.72M301.52 471.58V493.92M303.31 472.55V495.02M305.1 473.45V495.98M306.9 474.3V496.85M308.69 475.09V497.64M310.48 475.84V498.38M312.27 476.54V499.09M314.07 477.18V499.76M315.86 477.79V500.4M317.65 478.38V501M319.45 478.98V501.55M321.24 479.65V502.06M323.03 480.39V502.53M324.83 481.18V502.95M326.62 481.95V503.32M328.41 482.62V503.58M330.2 483.14V503.73M332 483.51V503.79M333.79 483.79V503.81M335.58 484V503.81M337.38 484.13V503.82M339.17 484.17V503.84M340.96 484.1V503.89M342.76 483.95V503.96M344.55 483.75V504.07M346.34 483.51V504.18M348.13 483.27V504.3M349.93 483.03V504.4M351.72 482.79V504.5M353.51 482.59V504.6M355.31 482.44V504.7M357.1 482.37V504.83M358.89 482.39V504.98M360.69 482.47V505.15M362.48 482.58V505.3M364.27 482.67V505.41M366.06 482.72V505.44M367.86 482.7V505.37M369.65 482.64V505.19M371.44 482.54V504.93M373.24 482.4V504.62M375.03 482.23V504.28M376.82 482.01V503.92M378.62 481.74V503.52M380.41 481.44V503.11M382.2 481.12V502.72M384 480.83V502.37M385.79 480.56V502.07M387.58 480.31V501.8M389.37 480.07V501.55M391.17 479.81V501.32M392.96 479.53V501.1M394.75 479.23V500.89M396.55 478.88V500.68M398.34 478.49V500.49M400.13 478.01V500.3M401.92 477.39V500.11M403.72 476.59V499.93M405.51 475.65V499.75M407.3 474.64V499.56M409.1 473.64V499.3M410.89 472.67V498.94M412.68 471.76V498.41M414.48 470.89V497.7M416.27 470.09V496.87M418.06 469.38V496.03M419.86 468.77V495.25M421.65 468.26V494.55M423.44 467.83V493.93M425.23 467.44V493.33M427.03 467.06V492.75M428.82 466.67V492.16M430.61 466.25V491.56M432.41 465.83V490.94M434.2 465.38V490.34M435.99 464.92V489.78M437.78 464.44V489.25M439.58 463.94V488.78M441.37 463.42V488.34M443.16 462.89V487.94M444.96 462.35V487.57M446.75 461.74V487.23" stroke="#000" stroke-width="0.68" fill="none"/>
<polyline points="267.45,476.59 269.24,476.19 271.04,475.89 272.83,475.67 274.62,475.5 276.41,475.4 278.21,475.37 280,475.38 281.79,475.46 283.59,475.63 285.38,475.92 287.17,476.31 288.97,476.78 290.76,477.34 292.55,477.95 294.34,478.62 296.14,479.36 297.93,480.16 299.72,481.01 301.52,481.89 303.31,482.78 305.1,483.68 306.9,484.59 308.69,485.49 310.48,486.36 312.27,487.18 314.07,487.95 315.86,488.68 317.65,489.37 319.45,490.04 321.24,490.71 323.03,491.38 324.83,492.04 326.62,492.66 328.41,493.17 330.2,493.56 332,493.83 333.79,494.01 335.58,494.1 337.38,494.14 339.17,494.12 340.96,494.06 342.76,493.97 344.55,493.86 346.34,493.76 348.13,493.7 349.93,493.67 351.72,493.67 353.51,493.67 355.31,493.67 357.1,493.7 358.89,493.76 360.69,493.86 362.48,493.97 364.27,494.06 366.06,494.12 367.86,494.14 369.65,494.1 371.44,493.94 373.24,493.63 375.03,493.21 376.82,492.74 378.62,492.3 380.41,491.9 382.2,491.54 384,491.24 385.79,490.98 387.58,490.76 389.37,490.56 391.17,490.38 392.96,490.21 394.75,490.04 396.55,489.84 398.34,489.57 400.13,489.17 401.92,488.65 403.72,488.05 405.51,487.38 407.3,486.68 409.1,485.97 410.89,485.27 412.68,484.59 414.48,483.92 416.27,483.27 418.06,482.65 419.86,482.07 421.65,481.54 423.44,481.03 425.23,480.54 427.03,480.04 428.82,479.52 430.61,478.97 432.41,478.39 434.2,477.79 435.99,477.18 437.78,476.55 439.58,475.93 441.37,475.41 443.16,475 444.96,474.87 446.75,474.86" stroke="#000" stroke-width="1.15" fill="none" stroke-linejoin="round"/>
<line x1="263.5" y1="425.1" x2="263.5" y2="525.1" stroke="#9c9c9c" stroke-width="1"/>
<line x1="267" y1="526.6" x2="446.9" y2="526.6" stroke="#808080" stroke-width="1.2"/>
<path d="M263.5 425.6h2.2M263.5 437.98h1.2M263.5 450.35h2.2M263.5 462.73h1.2M263.5 475.1h2.2M263.5 487.48h1.2M263.5 499.85h2.2M263.5 512.23h1.2M263.5 524.6h2.2M267.3 526.6v-1.8M303.16 526.6v-1.8M339.02 526.6v-1.8M374.88 526.6v-1.8M410.74 526.6v-1.8M446.6 526.6v-1.8" stroke="#9c9c9c" stroke-width="0.9" fill="none"/>
<text class="t" x="261.3" y="427.8" text-anchor="end">20</text>
<text class="t" x="261.3" y="452.55" text-anchor="end">10</text>
<text class="t" x="261.3" y="477.3" text-anchor="end">0</text>
<text class="t" x="261.3" y="502.05" text-anchor="end">-10</text>
<text class="t" x="261.3" y="526.8" text-anchor="end">-20</text>
<text class="yl" transform="translate(246.6 476.6) rotate(-90)" text-anchor="middle">Trunk ( <tspan dy="-3.9" font-size="5.6px" stroke-width="0.1">o</tspan><tspan dy="3.9">)</tspan></text>
<text class="t" x="267.3" y="534.9" text-anchor="middle">0</text>
<text class="t" x="303.16" y="534.9" text-anchor="middle">20</text>
<text class="t" x="339.02" y="534.9" text-anchor="middle">40</text>
<text class="t" x="374.88" y="534.9" text-anchor="middle">60</text>
<text class="t" x="410.74" y="534.9" text-anchor="middle">80</text>
<text class="t" x="446.6" y="534.9" text-anchor="middle">100</text>
<text class="xl" x="356.95" y="550" text-anchor="middle">Stride Cycle (%)</text>
</g>
<g>
<polygon fill="#b2b2b2" points="489.45,470.4 491.24,469.75 493.04,469.17 494.83,468.67 496.62,468.26 498.41,467.95 500.21,467.71 502,467.51 503.79,467.35 505.59,467.24 507.38,467.2 509.17,467.18 510.97,467.18 512.76,467.18 514.55,467.18 516.35,467.21 518.14,467.31 519.93,467.52 521.72,467.81 523.52,468.12 525.31,468.41 527.1,468.66 528.9,468.9 530.69,469.15 532.48,469.4 534.27,469.66 536.07,469.94 537.86,470.23 539.65,470.54 541.45,470.84 543.24,471.15 545.03,471.47 546.83,471.8 548.62,472.13 550.41,472.4 552.21,472.61 554,472.77 555.79,472.9 557.58,473.01 559.38,473.08 561.17,473.11 562.96,473.08 564.76,473.01 566.55,472.9 568.34,472.77 570.13,472.6 571.93,472.34 573.72,471.99 575.51,471.62 577.31,471.33 579.1,471.19 580.89,471.19 582.69,471.26 584.48,471.37 586.27,471.5 588.06,471.65 589.86,471.84 591.65,472.08 593.44,472.32 595.24,472.51 597.03,472.6 598.82,472.63 600.62,472.63 602.41,472.63 604.2,472.62 606,472.54 607.79,472.26 609.58,471.74 611.37,471.15 613.17,470.54 614.96,469.94 616.75,469.47 618.55,469.25 620.34,469.28 622.13,469.44 623.92,469.68 625.72,469.98 627.51,470.37 629.3,470.8 631.1,471.23 632.89,471.63 634.68,471.98 636.48,472.33 638.27,472.64 640.06,472.9 641.86,473.1 643.65,473.24 645.44,473.35 647.23,473.44 649.03,473.53 650.82,473.62 652.61,473.72 654.41,473.82 656.2,473.91 657.99,474.01 659.78,474.11 661.58,474.21 663.37,474.31 665.16,474.41 666.96,474.51 668.75,474.61 668.75,499.11 666.96,499.48 665.16,499.8 663.37,500.06 661.58,500.24 659.78,500.33 657.99,500.35 656.2,500.35 654.41,500.35 652.61,500.34 650.82,500.3 649.03,500.13 647.23,499.76 645.44,499.25 643.65,498.69 641.86,498.12 640.06,497.53 638.27,496.89 636.48,496.25 634.68,495.67 632.89,495.17 631.1,494.75 629.3,494.36 627.51,494.03 625.72,493.8 623.92,493.69 622.13,493.67 620.34,493.67 618.55,493.67 616.75,493.67 614.96,493.67 613.17,493.67 611.37,493.67 609.58,493.67 607.79,493.67 606,493.67 604.2,493.67 602.41,493.67 600.62,493.66 598.82,493.66 597.03,493.66 595.24,493.63 593.44,493.58 591.65,493.5 589.86,493.4 588.06,493.29 586.27,493.19 584.48,493.09 582.69,493.01 580.89,492.95 579.1,492.93 577.31,492.93 575.51,492.94 573.72,492.95 571.93,492.98 570.13,493 568.34,493.03 566.55,493.06 564.76,493.1 562.96,493.13 561.17,493.17 559.38,493.22 557.58,493.28 555.79,493.35 554,493.43 552.21,493.52 550.41,493.6 548.62,493.69 546.83,493.77 545.03,493.84 543.24,493.91 541.45,493.98 539.65,494.04 537.86,494.1 536.07,494.14 534.27,494.15 532.48,494.14 530.69,494.1 528.9,494.04 527.1,493.96 525.31,493.87 523.52,493.77 521.72,493.64 519.93,493.48 518.14,493.31 516.35,493.21 514.55,493.21 512.76,493.27 510.97,493.37 509.17,493.51 507.38,493.72 505.59,494.06 503.79,494.62 502,495.34 500.21,496.24 498.41,497.4 496.62,498.74 494.83,500.02 493.04,501.1 491.24,502.02 489.45,502.82"/>
<line x1="489.3" y1="475.35" x2="668.6" y2="475.35" stroke="#333" stroke-width="0.7"/>
<path d="M489.45 464.46V487.73M491.24 464.7V487.34M493.04 464.97V487.1M494.83 465.28V486.94M496.62 465.61V486.84M498.41 465.97V486.83M500.21 466.38V486.93M502 466.82V487.14M503.79 467.32V487.45M505.59 467.88V487.84M507.38 468.52V488.29M509.17 469.27V488.82M510.97 470.12V489.44M512.76 471.03V490.15M514.55 471.95V490.91M516.35 472.85V491.72M518.14 473.71V492.56M519.93 474.54V493.44M521.72 475.3V494.34M523.52 475.95V495.24M525.31 476.47V496.13M527.1 476.86V497M528.9 477.16V497.85M530.69 477.41V498.66M532.48 477.62V499.39M534.27 477.83V500.04M536.07 478.02V500.61M537.86 478.2V501.11M539.65 478.35V501.53M541.45 478.47V501.82M543.24 478.53V501.99M545.03 478.56V502.06M546.83 478.57V502.08M548.62 478.57V502.07M550.41 478.55V502.05M552.21 478.51V501.95M554 478.42V501.73M555.79 478.26V501.38M557.58 478.05V500.94M559.38 477.82V500.53M561.17 477.6V500.21M562.96 477.38V499.99M564.76 477.18V499.84M566.55 476.98V499.73M568.34 476.78V499.66M570.13 476.57V499.63M571.93 476.34V499.61M573.72 476.11V499.61M575.51 475.9V499.61M577.31 475.74V499.61M579.1 475.65V499.61M580.89 475.61V499.61M582.69 475.6V499.61M584.48 475.6V499.61M586.27 475.6V499.61M588.06 475.6V499.64M589.86 475.6V499.7M591.65 475.6V499.8M593.44 475.6V499.91M595.24 475.6V500M597.03 475.6V500.06M598.82 475.6V500.09M600.62 475.6V500.1M602.41 475.59V500.1M604.2 475.57V500.09M606 475.5V500.05M607.79 475.33V499.95M609.58 475.03V499.8M611.37 474.62V499.59M613.17 474.12V499.36M614.96 473.58V499.14M616.75 472.98V498.93M618.55 472.32V498.74M620.34 471.61V498.55M622.13 470.89V498.33M623.92 470.15V498.07M625.72 469.42V497.77M627.51 468.69V497.42M629.3 467.99V497.02M631.1 467.34V496.58M632.89 466.76V496.1M634.68 466.26V495.58M636.48 465.82V495.01M638.27 465.43V494.41M640.06 465.06V493.79M641.86 464.71V493.18M643.65 464.38V492.58M645.44 464.05V491.98M647.23 463.75V491.39M649.03 463.49V490.79M650.82 463.26V490.19M652.61 463.07V489.58M654.41 462.9V488.96M656.2 462.76V488.36M657.99 462.62V487.8M659.78 462.48V487.27M661.58 462.33V486.8M663.37 462.18V486.36M665.16 462.04V485.96M666.96 461.89V485.59M668.75 461.74V485.25" stroke="#000" stroke-width="0.68" fill="none"/>
<polyline points="489.45,475.85 491.24,475.59 493.04,475.47 494.83,475.43 496.62,475.45 498.41,475.58 500.21,475.84 502,476.22 503.79,476.73 505.59,477.35 507.38,478.05 509.17,478.76 510.97,479.46 512.76,480.15 514.55,480.85 516.35,481.56 518.14,482.28 519.93,483.02 521.72,483.77 523.52,484.51 525.31,485.26 527.1,486.01 528.9,486.76 530.69,487.47 532.48,488.1 534.27,488.62 536.07,489.05 537.86,489.4 539.65,489.7 541.45,489.96 543.24,490.19 545.03,490.38 546.83,490.51 548.62,490.53 550.41,490.41 552.21,490.17 554,489.88 555.79,489.56 557.58,489.25 559.38,488.98 561.17,488.77 562.96,488.61 564.76,488.5 566.55,488.4 568.34,488.31 570.13,488.22 571.93,488.12 573.72,488.02 575.51,487.92 577.31,487.82 579.1,487.72 580.89,487.6 582.69,487.49 584.48,487.38 586.27,487.31 588.06,487.29 589.86,487.33 591.65,487.42 593.44,487.53 595.24,487.63 597.03,487.69 598.82,487.72 600.62,487.72 602.41,487.72 604.2,487.71 606,487.67 607.79,487.57 609.58,487.39 611.37,487.11 613.17,486.72 614.96,486.29 616.75,485.86 618.55,485.45 620.34,485.06 622.13,484.65 623.92,484.21 625.72,483.73 627.51,483.2 629.3,482.65 631.1,482.1 632.89,481.56 634.68,481.04 636.48,480.54 638.27,480.04 640.06,479.55 641.86,479.05 643.65,478.55 645.44,478.05 647.23,477.55 649.03,477.07 650.82,476.61 652.61,476.17 654.41,475.75 656.2,475.36 657.99,474.98 659.78,474.62 661.58,474.29 663.37,473.97 665.16,473.68 666.96,473.4 668.75,473.12" stroke="#000" stroke-width="1.15" fill="none" stroke-linejoin="round"/>
<line x1="485.5" y1="425.1" x2="485.5" y2="525.1" stroke="#9c9c9c" stroke-width="1"/>
<line x1="489" y1="526.6" x2="668.9" y2="526.6" stroke="#808080" stroke-width="1.2"/>
<path d="M485.5 425.6h2.2M485.5 437.98h1.2M485.5 450.35h2.2M485.5 462.73h1.2M485.5 475.1h2.2M485.5 487.48h1.2M485.5 499.85h2.2M485.5 512.23h1.2M485.5 524.6h2.2M489.3 526.6v-1.8M525.16 526.6v-1.8M561.02 526.6v-1.8M596.88 526.6v-1.8M632.74 526.6v-1.8M668.6 526.6v-1.8" stroke="#9c9c9c" stroke-width="0.9" fill="none"/>
<text class="t" x="483.3" y="427.8" text-anchor="end">20</text>
<text class="t" x="483.3" y="452.55" text-anchor="end">10</text>
<text class="t" x="483.3" y="477.3" text-anchor="end">0</text>
<text class="t" x="483.3" y="502.05" text-anchor="end">-10</text>
<text class="t" x="483.3" y="526.8" text-anchor="end">-20</text>
<text class="yl" transform="translate(468.6 476.6) rotate(-90)" text-anchor="middle">Trunk ( <tspan dy="-3.9" font-size="5.6px" stroke-width="0.1">o</tspan><tspan dy="3.9">)</tspan></text>
<text class="t" x="489.3" y="534.9" text-anchor="middle">0</text>
<text class="t" x="525.16" y="534.9" text-anchor="middle">20</text>
<text class="t" x="561.02" y="534.9" text-anchor="middle">40</text>
<text class="t" x="596.88" y="534.9" text-anchor="middle">60</text>
<text class="t" x="632.74" y="534.9" text-anchor="middle">80</text>
<text class="t" x="668.6" y="534.9" text-anchor="middle">100</text>
<text class="xl" x="578.95" y="550" text-anchor="middle">Stride Cycle (%)</text>
</g>
<rect x="51.1" y="100.1" width="18.7" height="7.5" fill="#b2b2b2"/>
<line x1="51.1" y1="115.9" x2="75.4" y2="115.9" stroke="#555" stroke-width="1.5"/>
<text class="lg" x="81.2" y="105.4">Nonparetic</text>
<text class="lg" x="81.4" y="119.8">Paretic</text>
</svg>
</body></html>
